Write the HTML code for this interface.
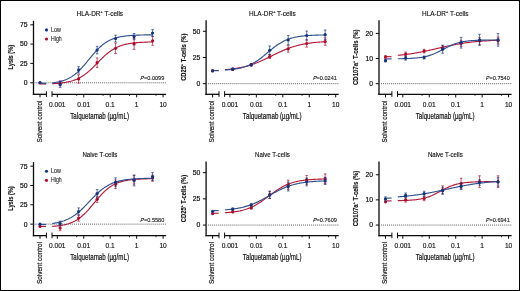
<!DOCTYPE html>
<html><head><meta charset="utf-8"><style>
html,body{margin:0;padding:0;background:#fff;}
.wrap{position:relative;will-change:transform;width:520px;height:291px;overflow:hidden;background:#fff;}
svg{position:absolute;left:0;top:0;}
svg text{font-family:"Liberation Sans",sans-serif;stroke:#111;stroke-width:0.14px;}
</style></head><body><div class="wrap">
<svg width="520" height="291" viewBox="0 0 520 291">
<rect x="0" y="0" width="520" height="291" fill="#fff"/>
<text x="99.80" y="16.00" font-size="6.8" text-anchor="middle" fill="#111" textLength="46.6" lengthAdjust="spacingAndGlyphs">HLA-DR<tspan dy="-3.2" font-size="4.0">+</tspan><tspan dy="3.2"> T-cells</tspan></text>
<line x1="33.50" y1="20.80" x2="33.50" y2="94.90" stroke="#0a0a0a" stroke-width="1.3"/>
<line x1="30.30" y1="24.80" x2="33.50" y2="24.80" stroke="#0a0a0a" stroke-width="1"/>
<text x="27.60" y="27.15" font-size="6.8" text-anchor="end" font-weight="normal" font-style="normal" fill="#111" style="stroke-width:0.2px">75</text>
<line x1="30.30" y1="44.10" x2="33.50" y2="44.10" stroke="#0a0a0a" stroke-width="1"/>
<text x="27.60" y="46.45" font-size="6.8" text-anchor="end" font-weight="normal" font-style="normal" fill="#111" style="stroke-width:0.2px">50</text>
<line x1="30.30" y1="63.40" x2="33.50" y2="63.40" stroke="#0a0a0a" stroke-width="1"/>
<text x="27.60" y="65.75" font-size="6.8" text-anchor="end" font-weight="normal" font-style="normal" fill="#111" style="stroke-width:0.2px">25</text>
<line x1="30.30" y1="82.80" x2="33.50" y2="82.80" stroke="#0a0a0a" stroke-width="1"/>
<text x="27.60" y="85.15" font-size="6.8" text-anchor="end" font-weight="normal" font-style="normal" fill="#111" style="stroke-width:0.2px">0</text>
<text transform="translate(13.00,57.20) rotate(-90)" font-size="7.2" font-weight="bold" text-anchor="middle" fill="#111" textLength="24.6" lengthAdjust="spacingAndGlyphs">Lysis (%)</text>
<line x1="32.85" y1="94.30" x2="46.40" y2="94.30" stroke="#0a0a0a" stroke-width="1.3"/>
<line x1="52.00" y1="94.30" x2="166.10" y2="94.30" stroke="#0a0a0a" stroke-width="1.3"/>
<line x1="46.40" y1="91.20" x2="46.40" y2="96.90" stroke="#0a0a0a" stroke-width="1"/>
<line x1="52.00" y1="91.20" x2="52.00" y2="96.90" stroke="#0a0a0a" stroke-width="1"/>
<line x1="40.00" y1="94.30" x2="40.00" y2="97.40" stroke="#0a0a0a" stroke-width="1"/>
<line x1="57.30" y1="94.30" x2="57.30" y2="97.40" stroke="#0a0a0a" stroke-width="1"/>
<text x="57.30" y="106.60" font-size="6.6" text-anchor="middle" font-weight="normal" font-style="normal" fill="#111" >0.001</text>
<line x1="76.61" y1="94.30" x2="76.61" y2="95.90" stroke="#0a0a0a" stroke-width="0.8"/>
<line x1="83.75" y1="94.30" x2="83.75" y2="97.40" stroke="#0a0a0a" stroke-width="1"/>
<text x="83.75" y="106.60" font-size="6.6" text-anchor="middle" font-weight="normal" font-style="normal" fill="#111" >0.01</text>
<line x1="103.06" y1="94.30" x2="103.06" y2="95.90" stroke="#0a0a0a" stroke-width="0.8"/>
<line x1="110.20" y1="94.30" x2="110.20" y2="97.40" stroke="#0a0a0a" stroke-width="1"/>
<text x="110.20" y="106.60" font-size="6.6" text-anchor="middle" font-weight="normal" font-style="normal" fill="#111" >0.1</text>
<line x1="129.51" y1="94.30" x2="129.51" y2="95.90" stroke="#0a0a0a" stroke-width="0.8"/>
<line x1="136.65" y1="94.30" x2="136.65" y2="97.40" stroke="#0a0a0a" stroke-width="1"/>
<text x="136.65" y="106.60" font-size="6.6" text-anchor="middle" font-weight="normal" font-style="normal" fill="#111" >1</text>
<line x1="155.96" y1="94.30" x2="155.96" y2="95.90" stroke="#0a0a0a" stroke-width="0.8"/>
<line x1="163.10" y1="94.30" x2="163.10" y2="97.40" stroke="#0a0a0a" stroke-width="1"/>
<text x="163.10" y="106.60" font-size="6.6" text-anchor="middle" font-weight="normal" font-style="normal" fill="#111" >10</text>
<text x="99.60" y="118.90" font-size="9.0" text-anchor="middle" font-weight="normal" font-style="normal" fill="#111" textLength="58.7" lengthAdjust="spacingAndGlyphs" style="stroke-width:0.22px">Talquetamab (µg/mL)</text>
<text transform="translate(41.70,100.60) rotate(-90)" font-size="7.2" text-anchor="end" fill="#111" style="stroke-width:0.2px" textLength="42.0" lengthAdjust="spacingAndGlyphs">Solvent control</text>
<line x1="33.50" y1="82.80" x2="166.80" y2="82.80" stroke="#5e5e5e" stroke-width="1" stroke-dasharray="1,1.02"/>
<text x="164.30" y="80.20" font-size="5.9" text-anchor="end" fill="#111" style="stroke-width:0.1px" textLength="20.3" lengthAdjust="spacingAndGlyphs">=0.0099</text>
<text transform="translate(140.10,80.20) skewX(-14)" font-size="5.9" fill="#111" style="stroke-width:0.1px" textLength="3.6" lengthAdjust="spacingAndGlyphs">P</text>
<circle cx="46.50" cy="29.90" r="1.55" fill="#15337a"/>
<circle cx="46.50" cy="39.00" r="1.55" fill="#ac0b2b"/>
<text x="51.00" y="31.90" font-size="6.5" text-anchor="start" font-weight="normal" font-style="normal" fill="#111" textLength="9.9" lengthAdjust="spacingAndGlyphs" style="stroke-width:0.08px">Low</text>
<text x="51.00" y="40.90" font-size="6.5" text-anchor="start" font-weight="normal" font-style="normal" fill="#111" textLength="10.7" lengthAdjust="spacingAndGlyphs" style="stroke-width:0.08px">High</text>
<path d="M52.30,83.71 L53.14,83.67 L53.99,83.62 L54.83,83.57 L55.67,83.51 L56.51,83.45 L57.36,83.38 L58.20,83.31 L59.04,83.23 L59.88,83.15 L60.73,83.06 L61.57,82.96 L62.41,82.85 L63.25,82.74 L64.10,82.61 L64.94,82.48 L65.78,82.34 L66.62,82.18 L67.47,82.02 L68.31,81.84 L69.15,81.65 L70.00,81.44 L70.84,81.22 L71.68,80.98 L72.52,80.73 L73.37,80.46 L74.21,80.16 L75.05,79.85 L75.89,79.52 L76.74,79.17 L77.58,78.79 L78.42,78.39 L79.26,77.97 L80.11,77.52 L80.95,77.04 L81.79,76.54 L82.64,76.02 L83.48,75.46 L84.32,74.88 L85.16,74.27 L86.01,73.63 L86.85,72.97 L87.69,72.28 L88.53,71.57 L89.38,70.83 L90.22,70.07 L91.06,69.29 L91.90,68.49 L92.75,67.67 L93.59,66.84 L94.43,66.00 L95.27,65.14 L96.12,64.28 L96.96,63.42 L97.80,62.55 L98.65,61.69 L99.49,60.83 L100.33,59.97 L101.17,59.13 L102.02,58.30 L102.86,57.48 L103.70,56.68 L104.54,55.90 L105.39,55.14 L106.23,54.41 L107.07,53.69 L107.91,53.00 L108.76,52.34 L109.60,51.71 L110.44,51.10 L111.28,50.52 L112.13,49.96 L112.97,49.44 L113.81,48.94 L114.66,48.46 L115.50,48.01 L116.34,47.59 L117.18,47.19 L118.03,46.82 L118.87,46.46 L119.71,46.13 L120.55,45.82 L121.40,45.53 L122.24,45.26 L123.08,45.00 L123.92,44.77 L124.77,44.55 L125.61,44.34 L126.45,44.15 L127.30,43.97 L128.14,43.80 L128.98,43.65 L129.82,43.51 L130.67,43.38 L131.51,43.25 L132.35,43.14 L133.19,43.03 L134.04,42.93 L134.88,42.84 L135.72,42.76 L136.56,42.68 L137.41,42.61 L138.25,42.54 L139.09,42.48 L139.93,42.43 L140.78,42.37 L141.62,42.33 L142.46,42.28 L143.31,42.24 L144.15,42.20 L144.99,42.17 L145.83,42.13 L146.68,42.10 L147.52,42.08 L148.36,42.05 L149.20,42.03 L150.05,42.01 L150.89,41.99 L151.73,41.97 L152.57,41.95" fill="none" stroke="#b41a3a" stroke-width="1.15"/>
<line x1="41.20" y1="84.00" x2="46.10" y2="84.00" stroke="#b41a3a" stroke-width="1.15"/>
<circle cx="40.00" cy="83.00" r="1.6" fill="#ac0b2b"/>
<line x1="60.14" y1="80.80" x2="60.14" y2="85.80" stroke="#ac0b2b" stroke-width="0.8" opacity="0.85"/>
<line x1="58.84" y1="80.80" x2="61.44" y2="80.80" stroke="#ac0b2b" stroke-width="0.8" opacity="0.85"/>
<line x1="58.84" y1="85.80" x2="61.44" y2="85.80" stroke="#ac0b2b" stroke-width="0.8" opacity="0.85"/>
<circle cx="60.14" cy="83.30" r="1.6" fill="#ac0b2b"/>
<line x1="78.62" y1="74.70" x2="78.62" y2="83.10" stroke="#ac0b2b" stroke-width="0.8" opacity="0.85"/>
<line x1="77.32" y1="74.70" x2="79.92" y2="74.70" stroke="#ac0b2b" stroke-width="0.8" opacity="0.85"/>
<line x1="77.32" y1="83.10" x2="79.92" y2="83.10" stroke="#ac0b2b" stroke-width="0.8" opacity="0.85"/>
<circle cx="78.62" cy="78.90" r="1.6" fill="#ac0b2b"/>
<line x1="97.11" y1="57.90" x2="97.11" y2="67.50" stroke="#ac0b2b" stroke-width="0.8" opacity="0.85"/>
<line x1="95.81" y1="57.90" x2="98.41" y2="57.90" stroke="#ac0b2b" stroke-width="0.8" opacity="0.85"/>
<line x1="95.81" y1="67.50" x2="98.41" y2="67.50" stroke="#ac0b2b" stroke-width="0.8" opacity="0.85"/>
<circle cx="97.11" cy="62.70" r="1.6" fill="#ac0b2b"/>
<line x1="115.60" y1="43.10" x2="115.60" y2="53.50" stroke="#ac0b2b" stroke-width="0.8" opacity="0.85"/>
<line x1="114.30" y1="43.10" x2="116.90" y2="43.10" stroke="#ac0b2b" stroke-width="0.8" opacity="0.85"/>
<line x1="114.30" y1="53.50" x2="116.90" y2="53.50" stroke="#ac0b2b" stroke-width="0.8" opacity="0.85"/>
<circle cx="115.60" cy="48.30" r="1.6" fill="#ac0b2b"/>
<line x1="134.09" y1="38.50" x2="134.09" y2="49.30" stroke="#ac0b2b" stroke-width="0.8" opacity="0.85"/>
<line x1="132.79" y1="38.50" x2="135.39" y2="38.50" stroke="#ac0b2b" stroke-width="0.8" opacity="0.85"/>
<line x1="132.79" y1="49.30" x2="135.39" y2="49.30" stroke="#ac0b2b" stroke-width="0.8" opacity="0.85"/>
<circle cx="134.09" cy="43.90" r="1.6" fill="#ac0b2b"/>
<line x1="152.57" y1="36.50" x2="152.57" y2="45.30" stroke="#ac0b2b" stroke-width="0.8" opacity="0.85"/>
<line x1="151.27" y1="36.50" x2="153.87" y2="36.50" stroke="#ac0b2b" stroke-width="0.8" opacity="0.85"/>
<line x1="151.27" y1="45.30" x2="153.87" y2="45.30" stroke="#ac0b2b" stroke-width="0.8" opacity="0.85"/>
<circle cx="152.57" cy="40.90" r="1.6" fill="#ac0b2b"/>
<path d="M52.30,82.93 L53.14,82.83 L53.99,82.71 L54.83,82.58 L55.67,82.45 L56.51,82.30 L57.36,82.14 L58.20,81.97 L59.04,81.78 L59.88,81.58 L60.73,81.37 L61.57,81.13 L62.41,80.88 L63.25,80.62 L64.10,80.33 L64.94,80.02 L65.78,79.68 L66.62,79.33 L67.47,78.95 L68.31,78.54 L69.15,78.11 L70.00,77.65 L70.84,77.16 L71.68,76.64 L72.52,76.08 L73.37,75.50 L74.21,74.88 L75.05,74.23 L75.89,73.55 L76.74,72.84 L77.58,72.09 L78.42,71.30 L79.26,70.49 L80.11,69.65 L80.95,68.77 L81.79,67.87 L82.64,66.94 L83.48,65.99 L84.32,65.02 L85.16,64.03 L86.01,63.02 L86.85,62.00 L87.69,60.97 L88.53,59.94 L89.38,58.90 L90.22,57.87 L91.06,56.85 L91.90,55.83 L92.75,54.82 L93.59,53.83 L94.43,52.86 L95.27,51.91 L96.12,50.99 L96.96,50.09 L97.80,49.21 L98.65,48.37 L99.49,47.56 L100.33,46.78 L101.17,46.04 L102.02,45.32 L102.86,44.64 L103.70,44.00 L104.54,43.38 L105.39,42.80 L106.23,42.25 L107.07,41.74 L107.91,41.25 L108.76,40.79 L109.60,40.36 L110.44,39.95 L111.28,39.58 L112.13,39.22 L112.97,38.89 L113.81,38.59 L114.66,38.30 L115.50,38.03 L116.34,37.78 L117.18,37.55 L118.03,37.34 L118.87,37.14 L119.71,36.95 L120.55,36.78 L121.40,36.63 L122.24,36.48 L123.08,36.34 L123.92,36.22 L124.77,36.10 L125.61,36.00 L126.45,35.90 L127.30,35.80 L128.14,35.72 L128.98,35.64 L129.82,35.57 L130.67,35.50 L131.51,35.44 L132.35,35.39 L133.19,35.34 L134.04,35.29 L134.88,35.24 L135.72,35.20 L136.56,35.17 L137.41,35.13 L138.25,35.10 L139.09,35.07 L139.93,35.04 L140.78,35.02 L141.62,35.00 L142.46,34.97 L143.31,34.96 L144.15,34.94 L144.99,34.92 L145.83,34.91 L146.68,34.89 L147.52,34.88 L148.36,34.87 L149.20,34.86 L150.05,34.85 L150.89,34.84 L151.73,34.83 L152.57,34.82" fill="none" stroke="#30518f" stroke-width="1.15"/>
<line x1="41.20" y1="83.30" x2="46.10" y2="83.30" stroke="#30518f" stroke-width="1.15"/>
<circle cx="40.00" cy="82.60" r="1.6" fill="#15337a"/>
<line x1="60.14" y1="81.60" x2="60.14" y2="87.60" stroke="#15337a" stroke-width="0.8" opacity="0.85"/>
<line x1="58.84" y1="81.60" x2="61.44" y2="81.60" stroke="#15337a" stroke-width="0.8" opacity="0.85"/>
<line x1="58.84" y1="87.60" x2="61.44" y2="87.60" stroke="#15337a" stroke-width="0.8" opacity="0.85"/>
<circle cx="60.14" cy="84.60" r="1.6" fill="#15337a"/>
<line x1="78.62" y1="66.70" x2="78.62" y2="73.10" stroke="#15337a" stroke-width="0.8" opacity="0.85"/>
<line x1="77.32" y1="66.70" x2="79.92" y2="66.70" stroke="#15337a" stroke-width="0.8" opacity="0.85"/>
<line x1="77.32" y1="73.10" x2="79.92" y2="73.10" stroke="#15337a" stroke-width="0.8" opacity="0.85"/>
<circle cx="78.62" cy="69.90" r="1.6" fill="#15337a"/>
<line x1="97.11" y1="46.30" x2="97.11" y2="53.90" stroke="#15337a" stroke-width="0.8" opacity="0.85"/>
<line x1="95.81" y1="46.30" x2="98.41" y2="46.30" stroke="#15337a" stroke-width="0.8" opacity="0.85"/>
<line x1="95.81" y1="53.90" x2="98.41" y2="53.90" stroke="#15337a" stroke-width="0.8" opacity="0.85"/>
<circle cx="97.11" cy="50.10" r="1.6" fill="#15337a"/>
<line x1="115.60" y1="35.20" x2="115.60" y2="42.00" stroke="#15337a" stroke-width="0.8" opacity="0.85"/>
<line x1="114.30" y1="35.20" x2="116.90" y2="35.20" stroke="#15337a" stroke-width="0.8" opacity="0.85"/>
<line x1="114.30" y1="42.00" x2="116.90" y2="42.00" stroke="#15337a" stroke-width="0.8" opacity="0.85"/>
<circle cx="115.60" cy="38.60" r="1.6" fill="#15337a"/>
<line x1="134.09" y1="33.50" x2="134.09" y2="39.70" stroke="#15337a" stroke-width="0.8" opacity="0.85"/>
<line x1="132.79" y1="33.50" x2="135.39" y2="33.50" stroke="#15337a" stroke-width="0.8" opacity="0.85"/>
<line x1="132.79" y1="39.70" x2="135.39" y2="39.70" stroke="#15337a" stroke-width="0.8" opacity="0.85"/>
<circle cx="134.09" cy="36.60" r="1.6" fill="#15337a"/>
<line x1="152.57" y1="29.70" x2="152.57" y2="36.30" stroke="#15337a" stroke-width="0.8" opacity="0.85"/>
<line x1="151.27" y1="29.70" x2="153.87" y2="29.70" stroke="#15337a" stroke-width="0.8" opacity="0.85"/>
<line x1="151.27" y1="36.30" x2="153.87" y2="36.30" stroke="#15337a" stroke-width="0.8" opacity="0.85"/>
<circle cx="152.57" cy="33.00" r="1.6" fill="#15337a"/>
<text x="272.40" y="16.00" font-size="6.8" text-anchor="middle" fill="#111" textLength="46.6" lengthAdjust="spacingAndGlyphs">HLA-DR<tspan dy="-3.2" font-size="4.0">+</tspan><tspan dy="3.2"> T-cells</tspan></text>
<line x1="206.10" y1="20.20" x2="206.10" y2="94.90" stroke="#0a0a0a" stroke-width="1.3"/>
<line x1="202.90" y1="31.30" x2="206.10" y2="31.30" stroke="#0a0a0a" stroke-width="1"/>
<text x="200.20" y="33.65" font-size="6.8" text-anchor="end" font-weight="normal" font-style="normal" fill="#111" style="stroke-width:0.2px">50</text>
<line x1="202.90" y1="57.50" x2="206.10" y2="57.50" stroke="#0a0a0a" stroke-width="1"/>
<text x="200.20" y="59.85" font-size="6.8" text-anchor="end" font-weight="normal" font-style="normal" fill="#111" style="stroke-width:0.2px">25</text>
<line x1="202.90" y1="83.70" x2="206.10" y2="83.70" stroke="#0a0a0a" stroke-width="1"/>
<text x="200.20" y="86.05" font-size="6.8" text-anchor="end" font-weight="normal" font-style="normal" fill="#111" style="stroke-width:0.2px">0</text>
<text transform="translate(186.40,57.20) rotate(-90)" font-size="7.2" font-weight="bold" text-anchor="middle" fill="#111" textLength="47.3" lengthAdjust="spacingAndGlyphs">CD25<tspan dy="-3.0" font-size="4.4">+</tspan><tspan dy="3.0"> T-cells (%)</tspan></text>
<line x1="205.45" y1="94.30" x2="219.00" y2="94.30" stroke="#0a0a0a" stroke-width="1.3"/>
<line x1="224.60" y1="94.30" x2="338.70" y2="94.30" stroke="#0a0a0a" stroke-width="1.3"/>
<line x1="219.00" y1="91.20" x2="219.00" y2="96.90" stroke="#0a0a0a" stroke-width="1"/>
<line x1="224.60" y1="91.20" x2="224.60" y2="96.90" stroke="#0a0a0a" stroke-width="1"/>
<line x1="212.60" y1="94.30" x2="212.60" y2="97.40" stroke="#0a0a0a" stroke-width="1"/>
<line x1="229.90" y1="94.30" x2="229.90" y2="97.40" stroke="#0a0a0a" stroke-width="1"/>
<text x="229.90" y="106.60" font-size="6.6" text-anchor="middle" font-weight="normal" font-style="normal" fill="#111" >0.001</text>
<line x1="249.21" y1="94.30" x2="249.21" y2="95.90" stroke="#0a0a0a" stroke-width="0.8"/>
<line x1="256.35" y1="94.30" x2="256.35" y2="97.40" stroke="#0a0a0a" stroke-width="1"/>
<text x="256.35" y="106.60" font-size="6.6" text-anchor="middle" font-weight="normal" font-style="normal" fill="#111" >0.01</text>
<line x1="275.66" y1="94.30" x2="275.66" y2="95.90" stroke="#0a0a0a" stroke-width="0.8"/>
<line x1="282.80" y1="94.30" x2="282.80" y2="97.40" stroke="#0a0a0a" stroke-width="1"/>
<text x="282.80" y="106.60" font-size="6.6" text-anchor="middle" font-weight="normal" font-style="normal" fill="#111" >0.1</text>
<line x1="302.11" y1="94.30" x2="302.11" y2="95.90" stroke="#0a0a0a" stroke-width="0.8"/>
<line x1="309.25" y1="94.30" x2="309.25" y2="97.40" stroke="#0a0a0a" stroke-width="1"/>
<text x="309.25" y="106.60" font-size="6.6" text-anchor="middle" font-weight="normal" font-style="normal" fill="#111" >1</text>
<line x1="328.56" y1="94.30" x2="328.56" y2="95.90" stroke="#0a0a0a" stroke-width="0.8"/>
<line x1="335.70" y1="94.30" x2="335.70" y2="97.40" stroke="#0a0a0a" stroke-width="1"/>
<text x="335.70" y="106.60" font-size="6.6" text-anchor="middle" font-weight="normal" font-style="normal" fill="#111" >10</text>
<text x="272.20" y="118.90" font-size="9.0" text-anchor="middle" font-weight="normal" font-style="normal" fill="#111" textLength="58.7" lengthAdjust="spacingAndGlyphs" style="stroke-width:0.22px">Talquetamab (µg/mL)</text>
<text transform="translate(214.30,100.60) rotate(-90)" font-size="7.2" text-anchor="end" fill="#111" style="stroke-width:0.2px" textLength="42.0" lengthAdjust="spacingAndGlyphs">Solvent control</text>
<line x1="206.10" y1="83.70" x2="339.40" y2="83.70" stroke="#5e5e5e" stroke-width="1" stroke-dasharray="1,1.02"/>
<text x="336.90" y="80.20" font-size="5.9" text-anchor="end" fill="#111" style="stroke-width:0.1px" textLength="20.3" lengthAdjust="spacingAndGlyphs">=0.0241</text>
<text transform="translate(312.70,80.20) skewX(-14)" font-size="5.9" fill="#111" style="stroke-width:0.1px" textLength="3.6" lengthAdjust="spacingAndGlyphs">P</text>
<path d="M224.90,69.72 L225.74,69.65 L226.59,69.57 L227.43,69.49 L228.27,69.41 L229.11,69.32 L229.96,69.23 L230.80,69.13 L231.64,69.03 L232.48,68.92 L233.33,68.81 L234.17,68.69 L235.01,68.56 L235.85,68.43 L236.70,68.30 L237.54,68.15 L238.38,68.01 L239.22,67.85 L240.07,67.69 L240.91,67.52 L241.75,67.34 L242.60,67.15 L243.44,66.96 L244.28,66.76 L245.12,66.55 L245.97,66.34 L246.81,66.11 L247.65,65.88 L248.49,65.63 L249.34,65.38 L250.18,65.12 L251.02,64.85 L251.86,64.58 L252.71,64.29 L253.55,63.99 L254.39,63.69 L255.24,63.37 L256.08,63.05 L256.92,62.72 L257.76,62.38 L258.61,62.04 L259.45,61.68 L260.29,61.32 L261.13,60.95 L261.98,60.57 L262.82,60.19 L263.66,59.80 L264.50,59.41 L265.35,59.01 L266.19,58.60 L267.03,58.19 L267.87,57.78 L268.72,57.37 L269.56,56.95 L270.40,56.53 L271.25,56.12 L272.09,55.70 L272.93,55.28 L273.77,54.86 L274.62,54.44 L275.46,54.03 L276.30,53.62 L277.14,53.21 L277.99,52.81 L278.83,52.41 L279.67,52.02 L280.51,51.63 L281.36,51.25 L282.20,50.87 L283.04,50.50 L283.88,50.14 L284.73,49.79 L285.57,49.44 L286.41,49.11 L287.26,48.78 L288.10,48.46 L288.94,48.14 L289.78,47.84 L290.63,47.55 L291.47,47.26 L292.31,46.99 L293.15,46.72 L294.00,46.46 L294.84,46.21 L295.68,45.97 L296.52,45.74 L297.37,45.51 L298.21,45.30 L299.05,45.09 L299.90,44.89 L300.74,44.70 L301.58,44.52 L302.42,44.34 L303.27,44.17 L304.11,44.01 L304.95,43.86 L305.79,43.71 L306.64,43.57 L307.48,43.43 L308.32,43.30 L309.16,43.18 L310.01,43.06 L310.85,42.95 L311.69,42.84 L312.53,42.74 L313.38,42.64 L314.22,42.55 L315.06,42.46 L315.91,42.38 L316.75,42.30 L317.59,42.22 L318.43,42.15 L319.28,42.08 L320.12,42.02 L320.96,41.96 L321.80,41.90 L322.65,41.84 L323.49,41.79 L324.33,41.74 L325.17,41.69" fill="none" stroke="#b41a3a" stroke-width="1.15"/>
<line x1="213.80" y1="70.60" x2="218.70" y2="70.60" stroke="#b41a3a" stroke-width="1.15"/>
<circle cx="212.60" cy="70.60" r="1.6" fill="#ac0b2b"/>
<line x1="232.74" y1="68.30" x2="232.74" y2="70.30" stroke="#ac0b2b" stroke-width="0.8" opacity="0.85"/>
<line x1="231.44" y1="68.30" x2="234.04" y2="68.30" stroke="#ac0b2b" stroke-width="0.8" opacity="0.85"/>
<line x1="231.44" y1="70.30" x2="234.04" y2="70.30" stroke="#ac0b2b" stroke-width="0.8" opacity="0.85"/>
<circle cx="232.74" cy="69.30" r="1.6" fill="#ac0b2b"/>
<line x1="251.22" y1="63.80" x2="251.22" y2="65.80" stroke="#ac0b2b" stroke-width="0.8" opacity="0.85"/>
<line x1="249.92" y1="63.80" x2="252.52" y2="63.80" stroke="#ac0b2b" stroke-width="0.8" opacity="0.85"/>
<line x1="249.92" y1="65.80" x2="252.52" y2="65.80" stroke="#ac0b2b" stroke-width="0.8" opacity="0.85"/>
<circle cx="251.22" cy="64.80" r="1.6" fill="#ac0b2b"/>
<line x1="269.71" y1="54.50" x2="269.71" y2="58.50" stroke="#ac0b2b" stroke-width="0.8" opacity="0.85"/>
<line x1="268.41" y1="54.50" x2="271.01" y2="54.50" stroke="#ac0b2b" stroke-width="0.8" opacity="0.85"/>
<line x1="268.41" y1="58.50" x2="271.01" y2="58.50" stroke="#ac0b2b" stroke-width="0.8" opacity="0.85"/>
<circle cx="269.71" cy="56.50" r="1.6" fill="#ac0b2b"/>
<line x1="288.20" y1="45.40" x2="288.20" y2="52.20" stroke="#ac0b2b" stroke-width="0.8" opacity="0.85"/>
<line x1="286.90" y1="45.40" x2="289.50" y2="45.40" stroke="#ac0b2b" stroke-width="0.8" opacity="0.85"/>
<line x1="286.90" y1="52.20" x2="289.50" y2="52.20" stroke="#ac0b2b" stroke-width="0.8" opacity="0.85"/>
<circle cx="288.20" cy="48.80" r="1.6" fill="#ac0b2b"/>
<line x1="306.69" y1="39.90" x2="306.69" y2="47.10" stroke="#ac0b2b" stroke-width="0.8" opacity="0.85"/>
<line x1="305.39" y1="39.90" x2="307.99" y2="39.90" stroke="#ac0b2b" stroke-width="0.8" opacity="0.85"/>
<line x1="305.39" y1="47.10" x2="307.99" y2="47.10" stroke="#ac0b2b" stroke-width="0.8" opacity="0.85"/>
<circle cx="306.69" cy="43.50" r="1.6" fill="#ac0b2b"/>
<line x1="325.17" y1="37.90" x2="325.17" y2="45.30" stroke="#ac0b2b" stroke-width="0.8" opacity="0.85"/>
<line x1="323.87" y1="37.90" x2="326.47" y2="37.90" stroke="#ac0b2b" stroke-width="0.8" opacity="0.85"/>
<line x1="323.87" y1="45.30" x2="326.47" y2="45.30" stroke="#ac0b2b" stroke-width="0.8" opacity="0.85"/>
<circle cx="325.17" cy="41.60" r="1.6" fill="#ac0b2b"/>
<path d="M224.90,69.99 L225.74,69.94 L226.59,69.88 L227.43,69.82 L228.27,69.76 L229.11,69.69 L229.96,69.61 L230.80,69.53 L231.64,69.44 L232.48,69.35 L233.33,69.25 L234.17,69.14 L235.01,69.02 L235.85,68.90 L236.70,68.76 L237.54,68.62 L238.38,68.46 L239.22,68.29 L240.07,68.11 L240.91,67.92 L241.75,67.72 L242.60,67.50 L243.44,67.26 L244.28,67.01 L245.12,66.75 L245.97,66.46 L246.81,66.16 L247.65,65.84 L248.49,65.51 L249.34,65.15 L250.18,64.77 L251.02,64.37 L251.86,63.95 L252.71,63.51 L253.55,63.04 L254.39,62.56 L255.24,62.05 L256.08,61.52 L256.92,60.97 L257.76,60.40 L258.61,59.81 L259.45,59.20 L260.29,58.58 L261.13,57.94 L261.98,57.28 L262.82,56.61 L263.66,55.92 L264.50,55.23 L265.35,54.53 L266.19,53.82 L267.03,53.11 L267.87,52.40 L268.72,51.69 L269.56,50.98 L270.40,50.28 L271.25,49.59 L272.09,48.90 L272.93,48.23 L273.77,47.57 L274.62,46.92 L275.46,46.29 L276.30,45.68 L277.14,45.09 L277.99,44.51 L278.83,43.96 L279.67,43.43 L280.51,42.92 L281.36,42.43 L282.20,41.96 L283.04,41.51 L283.88,41.09 L284.73,40.69 L285.57,40.30 L286.41,39.94 L287.26,39.60 L288.10,39.28 L288.94,38.97 L289.78,38.69 L290.63,38.42 L291.47,38.17 L292.31,37.93 L293.15,37.71 L294.00,37.50 L294.84,37.31 L295.68,37.13 L296.52,36.96 L297.37,36.80 L298.21,36.65 L299.05,36.51 L299.90,36.39 L300.74,36.27 L301.58,36.16 L302.42,36.06 L303.27,35.96 L304.11,35.87 L304.95,35.79 L305.79,35.71 L306.64,35.64 L307.48,35.58 L308.32,35.52 L309.16,35.46 L310.01,35.41 L310.85,35.36 L311.69,35.32 L312.53,35.27 L313.38,35.24 L314.22,35.20 L315.06,35.17 L315.91,35.14 L316.75,35.11 L317.59,35.08 L318.43,35.06 L319.28,35.04 L320.12,35.02 L320.96,35.00 L321.80,34.98 L322.65,34.96 L323.49,34.95 L324.33,34.93 L325.17,34.92" fill="none" stroke="#30518f" stroke-width="1.15"/>
<line x1="213.80" y1="70.50" x2="218.70" y2="70.50" stroke="#30518f" stroke-width="1.15"/>
<circle cx="212.60" cy="70.90" r="1.6" fill="#15337a"/>
<line x1="232.74" y1="68.10" x2="232.74" y2="70.10" stroke="#15337a" stroke-width="0.8" opacity="0.85"/>
<line x1="231.44" y1="68.10" x2="234.04" y2="68.10" stroke="#15337a" stroke-width="0.8" opacity="0.85"/>
<line x1="231.44" y1="70.10" x2="234.04" y2="70.10" stroke="#15337a" stroke-width="0.8" opacity="0.85"/>
<circle cx="232.74" cy="69.10" r="1.6" fill="#15337a"/>
<line x1="251.22" y1="63.80" x2="251.22" y2="65.80" stroke="#15337a" stroke-width="0.8" opacity="0.85"/>
<line x1="249.92" y1="63.80" x2="252.52" y2="63.80" stroke="#15337a" stroke-width="0.8" opacity="0.85"/>
<line x1="249.92" y1="65.80" x2="252.52" y2="65.80" stroke="#15337a" stroke-width="0.8" opacity="0.85"/>
<circle cx="251.22" cy="64.80" r="1.6" fill="#15337a"/>
<line x1="269.71" y1="46.00" x2="269.71" y2="54.60" stroke="#15337a" stroke-width="0.8" opacity="0.85"/>
<line x1="268.41" y1="46.00" x2="271.01" y2="46.00" stroke="#15337a" stroke-width="0.8" opacity="0.85"/>
<line x1="268.41" y1="54.60" x2="271.01" y2="54.60" stroke="#15337a" stroke-width="0.8" opacity="0.85"/>
<circle cx="269.71" cy="50.30" r="1.6" fill="#15337a"/>
<line x1="288.20" y1="35.40" x2="288.20" y2="44.40" stroke="#15337a" stroke-width="0.8" opacity="0.85"/>
<line x1="286.90" y1="35.40" x2="289.50" y2="35.40" stroke="#15337a" stroke-width="0.8" opacity="0.85"/>
<line x1="286.90" y1="44.40" x2="289.50" y2="44.40" stroke="#15337a" stroke-width="0.8" opacity="0.85"/>
<circle cx="288.20" cy="39.90" r="1.6" fill="#15337a"/>
<line x1="306.69" y1="31.00" x2="306.69" y2="40.00" stroke="#15337a" stroke-width="0.8" opacity="0.85"/>
<line x1="305.39" y1="31.00" x2="307.99" y2="31.00" stroke="#15337a" stroke-width="0.8" opacity="0.85"/>
<line x1="305.39" y1="40.00" x2="307.99" y2="40.00" stroke="#15337a" stroke-width="0.8" opacity="0.85"/>
<circle cx="306.69" cy="35.50" r="1.6" fill="#15337a"/>
<line x1="325.17" y1="30.00" x2="325.17" y2="39.40" stroke="#15337a" stroke-width="0.8" opacity="0.85"/>
<line x1="323.87" y1="30.00" x2="326.47" y2="30.00" stroke="#15337a" stroke-width="0.8" opacity="0.85"/>
<line x1="323.87" y1="39.40" x2="326.47" y2="39.40" stroke="#15337a" stroke-width="0.8" opacity="0.85"/>
<circle cx="325.17" cy="34.70" r="1.6" fill="#15337a"/>
<text x="445.30" y="16.00" font-size="6.8" text-anchor="middle" fill="#111" textLength="46.6" lengthAdjust="spacingAndGlyphs">HLA-DR<tspan dy="-3.2" font-size="4.0">+</tspan><tspan dy="3.2"> T-cells</tspan></text>
<line x1="379.00" y1="20.20" x2="379.00" y2="94.90" stroke="#0a0a0a" stroke-width="1.3"/>
<line x1="375.80" y1="33.40" x2="379.00" y2="33.40" stroke="#0a0a0a" stroke-width="1"/>
<text x="373.10" y="35.75" font-size="6.8" text-anchor="end" font-weight="normal" font-style="normal" fill="#111" style="stroke-width:0.2px">20</text>
<line x1="375.80" y1="58.50" x2="379.00" y2="58.50" stroke="#0a0a0a" stroke-width="1"/>
<text x="373.10" y="60.85" font-size="6.8" text-anchor="end" font-weight="normal" font-style="normal" fill="#111" style="stroke-width:0.2px">10</text>
<line x1="375.80" y1="83.70" x2="379.00" y2="83.70" stroke="#0a0a0a" stroke-width="1"/>
<text x="373.10" y="86.05" font-size="6.8" text-anchor="end" font-weight="normal" font-style="normal" fill="#111" style="stroke-width:0.2px">0</text>
<text transform="translate(357.80,57.20) rotate(-90)" font-size="7.2" font-weight="bold" text-anchor="middle" fill="#111" textLength="55.6" lengthAdjust="spacingAndGlyphs">CD107a<tspan dy="-3.0" font-size="4.4">+</tspan><tspan dy="3.0"> T-cells (%)</tspan></text>
<line x1="378.35" y1="94.30" x2="391.90" y2="94.30" stroke="#0a0a0a" stroke-width="1.3"/>
<line x1="397.50" y1="94.30" x2="511.60" y2="94.30" stroke="#0a0a0a" stroke-width="1.3"/>
<line x1="391.90" y1="91.20" x2="391.90" y2="96.90" stroke="#0a0a0a" stroke-width="1"/>
<line x1="397.50" y1="91.20" x2="397.50" y2="96.90" stroke="#0a0a0a" stroke-width="1"/>
<line x1="385.50" y1="94.30" x2="385.50" y2="97.40" stroke="#0a0a0a" stroke-width="1"/>
<line x1="402.80" y1="94.30" x2="402.80" y2="97.40" stroke="#0a0a0a" stroke-width="1"/>
<text x="402.80" y="106.60" font-size="6.6" text-anchor="middle" font-weight="normal" font-style="normal" fill="#111" >0.001</text>
<line x1="422.11" y1="94.30" x2="422.11" y2="95.90" stroke="#0a0a0a" stroke-width="0.8"/>
<line x1="429.25" y1="94.30" x2="429.25" y2="97.40" stroke="#0a0a0a" stroke-width="1"/>
<text x="429.25" y="106.60" font-size="6.6" text-anchor="middle" font-weight="normal" font-style="normal" fill="#111" >0.01</text>
<line x1="448.56" y1="94.30" x2="448.56" y2="95.90" stroke="#0a0a0a" stroke-width="0.8"/>
<line x1="455.70" y1="94.30" x2="455.70" y2="97.40" stroke="#0a0a0a" stroke-width="1"/>
<text x="455.70" y="106.60" font-size="6.6" text-anchor="middle" font-weight="normal" font-style="normal" fill="#111" >0.1</text>
<line x1="475.01" y1="94.30" x2="475.01" y2="95.90" stroke="#0a0a0a" stroke-width="0.8"/>
<line x1="482.15" y1="94.30" x2="482.15" y2="97.40" stroke="#0a0a0a" stroke-width="1"/>
<text x="482.15" y="106.60" font-size="6.6" text-anchor="middle" font-weight="normal" font-style="normal" fill="#111" >1</text>
<line x1="501.46" y1="94.30" x2="501.46" y2="95.90" stroke="#0a0a0a" stroke-width="0.8"/>
<line x1="508.60" y1="94.30" x2="508.60" y2="97.40" stroke="#0a0a0a" stroke-width="1"/>
<text x="508.60" y="106.60" font-size="6.6" text-anchor="middle" font-weight="normal" font-style="normal" fill="#111" >10</text>
<text x="445.10" y="118.90" font-size="9.0" text-anchor="middle" font-weight="normal" font-style="normal" fill="#111" textLength="58.7" lengthAdjust="spacingAndGlyphs" style="stroke-width:0.22px">Talquetamab (µg/mL)</text>
<text transform="translate(387.20,100.60) rotate(-90)" font-size="7.2" text-anchor="end" fill="#111" style="stroke-width:0.2px" textLength="42.0" lengthAdjust="spacingAndGlyphs">Solvent control</text>
<line x1="379.00" y1="83.70" x2="512.30" y2="83.70" stroke="#5e5e5e" stroke-width="1" stroke-dasharray="1,1.02"/>
<text x="509.80" y="80.20" font-size="5.9" text-anchor="end" fill="#111" style="stroke-width:0.1px" textLength="20.3" lengthAdjust="spacingAndGlyphs">=0.7540</text>
<text transform="translate(485.60,80.20) skewX(-14)" font-size="5.9" fill="#111" style="stroke-width:0.1px" textLength="3.6" lengthAdjust="spacingAndGlyphs">P</text>
<path d="M397.80,55.34 L398.64,55.26 L399.49,55.18 L400.33,55.09 L401.17,55.00 L402.01,54.91 L402.86,54.82 L403.70,54.72 L404.54,54.62 L405.38,54.52 L406.23,54.41 L407.07,54.30 L407.91,54.19 L408.75,54.08 L409.60,53.96 L410.44,53.83 L411.28,53.71 L412.12,53.58 L412.97,53.45 L413.81,53.31 L414.65,53.17 L415.50,53.03 L416.34,52.89 L417.18,52.74 L418.02,52.58 L418.87,52.43 L419.71,52.27 L420.55,52.11 L421.39,51.95 L422.24,51.78 L423.08,51.61 L423.92,51.44 L424.76,51.26 L425.61,51.08 L426.45,50.90 L427.29,50.72 L428.14,50.54 L428.98,50.35 L429.82,50.16 L430.66,49.98 L431.51,49.78 L432.35,49.59 L433.19,49.40 L434.03,49.21 L434.88,49.01 L435.72,48.81 L436.56,48.62 L437.40,48.42 L438.25,48.23 L439.09,48.03 L439.93,47.84 L440.77,47.64 L441.62,47.45 L442.46,47.25 L443.30,47.06 L444.15,46.87 L444.99,46.68 L445.83,46.50 L446.67,46.31 L447.52,46.13 L448.36,45.94 L449.20,45.76 L450.04,45.59 L450.89,45.41 L451.73,45.24 L452.57,45.07 L453.41,44.91 L454.26,44.74 L455.10,44.58 L455.94,44.42 L456.78,44.27 L457.63,44.12 L458.47,43.97 L459.31,43.82 L460.16,43.68 L461.00,43.54 L461.84,43.41 L462.68,43.28 L463.53,43.15 L464.37,43.02 L465.21,42.90 L466.05,42.78 L466.90,42.67 L467.74,42.56 L468.58,42.45 L469.42,42.34 L470.27,42.24 L471.11,42.14 L471.95,42.05 L472.80,41.95 L473.64,41.86 L474.48,41.77 L475.32,41.69 L476.17,41.61 L477.01,41.53 L477.85,41.45 L478.69,41.38 L479.54,41.31 L480.38,41.24 L481.22,41.17 L482.06,41.11 L482.91,41.05 L483.75,40.99 L484.59,40.93 L485.43,40.87 L486.28,40.82 L487.12,40.77 L487.96,40.72 L488.81,40.67 L489.65,40.63 L490.49,40.58 L491.33,40.54 L492.18,40.50 L493.02,40.46 L493.86,40.42 L494.70,40.39 L495.55,40.35 L496.39,40.32 L497.23,40.29 L498.07,40.26" fill="none" stroke="#b41a3a" stroke-width="1.15"/>
<line x1="386.70" y1="56.70" x2="391.60" y2="56.70" stroke="#b41a3a" stroke-width="1.15"/>
<line x1="385.50" y1="55.40" x2="385.50" y2="58.60" stroke="#ac0b2b" stroke-width="0.8" opacity="0.85"/>
<line x1="384.20" y1="55.40" x2="386.80" y2="55.40" stroke="#ac0b2b" stroke-width="0.8" opacity="0.85"/>
<line x1="384.20" y1="58.60" x2="386.80" y2="58.60" stroke="#ac0b2b" stroke-width="0.8" opacity="0.85"/>
<circle cx="385.50" cy="57.00" r="1.6" fill="#ac0b2b"/>
<line x1="405.64" y1="52.10" x2="405.64" y2="56.30" stroke="#ac0b2b" stroke-width="0.8" opacity="0.85"/>
<line x1="404.34" y1="52.10" x2="406.94" y2="52.10" stroke="#ac0b2b" stroke-width="0.8" opacity="0.85"/>
<line x1="404.34" y1="56.30" x2="406.94" y2="56.30" stroke="#ac0b2b" stroke-width="0.8" opacity="0.85"/>
<circle cx="405.64" cy="54.20" r="1.6" fill="#ac0b2b"/>
<line x1="424.12" y1="49.30" x2="424.12" y2="52.90" stroke="#ac0b2b" stroke-width="0.8" opacity="0.85"/>
<line x1="422.82" y1="49.30" x2="425.42" y2="49.30" stroke="#ac0b2b" stroke-width="0.8" opacity="0.85"/>
<line x1="422.82" y1="52.90" x2="425.42" y2="52.90" stroke="#ac0b2b" stroke-width="0.8" opacity="0.85"/>
<circle cx="424.12" cy="51.10" r="1.6" fill="#ac0b2b"/>
<line x1="442.61" y1="45.80" x2="442.61" y2="49.80" stroke="#ac0b2b" stroke-width="0.8" opacity="0.85"/>
<line x1="441.31" y1="45.80" x2="443.91" y2="45.80" stroke="#ac0b2b" stroke-width="0.8" opacity="0.85"/>
<line x1="441.31" y1="49.80" x2="443.91" y2="49.80" stroke="#ac0b2b" stroke-width="0.8" opacity="0.85"/>
<circle cx="442.61" cy="47.80" r="1.6" fill="#ac0b2b"/>
<line x1="461.10" y1="40.30" x2="461.10" y2="46.30" stroke="#ac0b2b" stroke-width="0.8" opacity="0.85"/>
<line x1="459.80" y1="40.30" x2="462.40" y2="40.30" stroke="#ac0b2b" stroke-width="0.8" opacity="0.85"/>
<line x1="459.80" y1="46.30" x2="462.40" y2="46.30" stroke="#ac0b2b" stroke-width="0.8" opacity="0.85"/>
<circle cx="461.10" cy="43.30" r="1.6" fill="#ac0b2b"/>
<line x1="479.59" y1="37.40" x2="479.59" y2="44.40" stroke="#ac0b2b" stroke-width="0.8" opacity="0.85"/>
<line x1="478.29" y1="37.40" x2="480.89" y2="37.40" stroke="#ac0b2b" stroke-width="0.8" opacity="0.85"/>
<line x1="478.29" y1="44.40" x2="480.89" y2="44.40" stroke="#ac0b2b" stroke-width="0.8" opacity="0.85"/>
<circle cx="479.59" cy="40.90" r="1.6" fill="#ac0b2b"/>
<line x1="498.07" y1="37.10" x2="498.07" y2="44.10" stroke="#ac0b2b" stroke-width="0.8" opacity="0.85"/>
<line x1="496.77" y1="37.10" x2="499.37" y2="37.10" stroke="#ac0b2b" stroke-width="0.8" opacity="0.85"/>
<line x1="496.77" y1="44.10" x2="499.37" y2="44.10" stroke="#ac0b2b" stroke-width="0.8" opacity="0.85"/>
<circle cx="498.07" cy="40.60" r="1.6" fill="#ac0b2b"/>
<path d="M397.80,58.77 L398.64,58.76 L399.49,58.74 L400.33,58.73 L401.17,58.72 L402.01,58.70 L402.86,58.68 L403.70,58.66 L404.54,58.64 L405.38,58.61 L406.23,58.58 L407.07,58.55 L407.91,58.52 L408.75,58.49 L409.60,58.45 L410.44,58.41 L411.28,58.36 L412.12,58.31 L412.97,58.25 L413.81,58.19 L414.65,58.13 L415.50,58.05 L416.34,57.98 L417.18,57.89 L418.02,57.80 L418.87,57.70 L419.71,57.59 L420.55,57.47 L421.39,57.34 L422.24,57.20 L423.08,57.05 L423.92,56.89 L424.76,56.71 L425.61,56.52 L426.45,56.32 L427.29,56.11 L428.14,55.87 L428.98,55.63 L429.82,55.37 L430.66,55.09 L431.51,54.79 L432.35,54.48 L433.19,54.16 L434.03,53.81 L434.88,53.46 L435.72,53.08 L436.56,52.70 L437.40,52.30 L438.25,51.89 L439.09,51.47 L439.93,51.04 L440.77,50.60 L441.62,50.16 L442.46,49.72 L443.30,49.27 L444.15,48.82 L444.99,48.38 L445.83,47.94 L446.67,47.51 L447.52,47.08 L448.36,46.67 L449.20,46.26 L450.04,45.87 L450.89,45.49 L451.73,45.13 L452.57,44.78 L453.41,44.45 L454.26,44.13 L455.10,43.83 L455.94,43.54 L456.78,43.27 L457.63,43.02 L458.47,42.78 L459.31,42.56 L460.16,42.35 L461.00,42.16 L461.84,41.98 L462.68,41.81 L463.53,41.65 L464.37,41.51 L465.21,41.38 L466.05,41.25 L466.90,41.14 L467.74,41.03 L468.58,40.94 L469.42,40.85 L470.27,40.77 L471.11,40.69 L471.95,40.62 L472.80,40.56 L473.64,40.50 L474.48,40.45 L475.32,40.40 L476.17,40.36 L477.01,40.32 L477.85,40.28 L478.69,40.25 L479.54,40.22 L480.38,40.19 L481.22,40.16 L482.06,40.14 L482.91,40.12 L483.75,40.10 L484.59,40.08 L485.43,40.06 L486.28,40.05 L487.12,40.04 L487.96,40.02 L488.81,40.01 L489.65,40.00 L490.49,39.99 L491.33,39.98 L492.18,39.98 L493.02,39.97 L493.86,39.96 L494.70,39.96 L495.55,39.95 L496.39,39.95 L497.23,39.94 L498.07,39.94" fill="none" stroke="#30518f" stroke-width="1.15"/>
<line x1="386.70" y1="58.90" x2="391.60" y2="58.90" stroke="#30518f" stroke-width="1.15"/>
<line x1="385.50" y1="59.50" x2="385.50" y2="61.90" stroke="#15337a" stroke-width="0.8" opacity="0.85"/>
<line x1="384.20" y1="59.50" x2="386.80" y2="59.50" stroke="#15337a" stroke-width="0.8" opacity="0.85"/>
<line x1="384.20" y1="61.90" x2="386.80" y2="61.90" stroke="#15337a" stroke-width="0.8" opacity="0.85"/>
<circle cx="385.50" cy="60.70" r="1.6" fill="#15337a"/>
<line x1="405.64" y1="56.10" x2="405.64" y2="60.10" stroke="#15337a" stroke-width="0.8" opacity="0.85"/>
<line x1="404.34" y1="56.10" x2="406.94" y2="56.10" stroke="#15337a" stroke-width="0.8" opacity="0.85"/>
<line x1="404.34" y1="60.10" x2="406.94" y2="60.10" stroke="#15337a" stroke-width="0.8" opacity="0.85"/>
<circle cx="405.64" cy="58.10" r="1.6" fill="#15337a"/>
<line x1="424.12" y1="56.00" x2="424.12" y2="59.00" stroke="#15337a" stroke-width="0.8" opacity="0.85"/>
<line x1="422.82" y1="56.00" x2="425.42" y2="56.00" stroke="#15337a" stroke-width="0.8" opacity="0.85"/>
<line x1="422.82" y1="59.00" x2="425.42" y2="59.00" stroke="#15337a" stroke-width="0.8" opacity="0.85"/>
<circle cx="424.12" cy="57.50" r="1.6" fill="#15337a"/>
<line x1="442.61" y1="45.20" x2="442.61" y2="53.20" stroke="#15337a" stroke-width="0.8" opacity="0.85"/>
<line x1="441.31" y1="45.20" x2="443.91" y2="45.20" stroke="#15337a" stroke-width="0.8" opacity="0.85"/>
<line x1="441.31" y1="53.20" x2="443.91" y2="53.20" stroke="#15337a" stroke-width="0.8" opacity="0.85"/>
<circle cx="442.61" cy="49.20" r="1.6" fill="#15337a"/>
<line x1="461.10" y1="37.30" x2="461.10" y2="48.10" stroke="#15337a" stroke-width="0.8" opacity="0.85"/>
<line x1="459.80" y1="37.30" x2="462.40" y2="37.30" stroke="#15337a" stroke-width="0.8" opacity="0.85"/>
<line x1="459.80" y1="48.10" x2="462.40" y2="48.10" stroke="#15337a" stroke-width="0.8" opacity="0.85"/>
<circle cx="461.10" cy="42.70" r="1.6" fill="#15337a"/>
<line x1="479.59" y1="34.20" x2="479.59" y2="45.60" stroke="#15337a" stroke-width="0.8" opacity="0.85"/>
<line x1="478.29" y1="34.20" x2="480.89" y2="34.20" stroke="#15337a" stroke-width="0.8" opacity="0.85"/>
<line x1="478.29" y1="45.60" x2="480.89" y2="45.60" stroke="#15337a" stroke-width="0.8" opacity="0.85"/>
<circle cx="479.59" cy="39.90" r="1.6" fill="#15337a"/>
<line x1="498.07" y1="33.60" x2="498.07" y2="46.20" stroke="#15337a" stroke-width="0.8" opacity="0.85"/>
<line x1="496.77" y1="33.60" x2="499.37" y2="33.60" stroke="#15337a" stroke-width="0.8" opacity="0.85"/>
<line x1="496.77" y1="46.20" x2="499.37" y2="46.20" stroke="#15337a" stroke-width="0.8" opacity="0.85"/>
<circle cx="498.07" cy="39.90" r="1.6" fill="#15337a"/>
<text x="99.80" y="157.45" font-size="6.8" text-anchor="middle" font-weight="normal" font-style="normal" fill="#111" textLength="34.8" lengthAdjust="spacingAndGlyphs" >Naive T-cells</text>
<line x1="33.50" y1="162.15" x2="33.50" y2="236.25" stroke="#0a0a0a" stroke-width="1.3"/>
<line x1="30.30" y1="166.15" x2="33.50" y2="166.15" stroke="#0a0a0a" stroke-width="1"/>
<text x="27.60" y="168.50" font-size="6.8" text-anchor="end" font-weight="normal" font-style="normal" fill="#111" style="stroke-width:0.2px">75</text>
<line x1="30.30" y1="185.45" x2="33.50" y2="185.45" stroke="#0a0a0a" stroke-width="1"/>
<text x="27.60" y="187.80" font-size="6.8" text-anchor="end" font-weight="normal" font-style="normal" fill="#111" style="stroke-width:0.2px">50</text>
<line x1="30.30" y1="204.75" x2="33.50" y2="204.75" stroke="#0a0a0a" stroke-width="1"/>
<text x="27.60" y="207.10" font-size="6.8" text-anchor="end" font-weight="normal" font-style="normal" fill="#111" style="stroke-width:0.2px">25</text>
<line x1="30.30" y1="224.15" x2="33.50" y2="224.15" stroke="#0a0a0a" stroke-width="1"/>
<text x="27.60" y="226.50" font-size="6.8" text-anchor="end" font-weight="normal" font-style="normal" fill="#111" style="stroke-width:0.2px">0</text>
<text transform="translate(13.00,198.55) rotate(-90)" font-size="7.2" font-weight="bold" text-anchor="middle" fill="#111" textLength="24.6" lengthAdjust="spacingAndGlyphs">Lysis (%)</text>
<line x1="32.85" y1="235.65" x2="46.40" y2="235.65" stroke="#0a0a0a" stroke-width="1.3"/>
<line x1="52.00" y1="235.65" x2="166.10" y2="235.65" stroke="#0a0a0a" stroke-width="1.3"/>
<line x1="46.40" y1="232.55" x2="46.40" y2="238.25" stroke="#0a0a0a" stroke-width="1"/>
<line x1="52.00" y1="232.55" x2="52.00" y2="238.25" stroke="#0a0a0a" stroke-width="1"/>
<line x1="40.00" y1="235.65" x2="40.00" y2="238.75" stroke="#0a0a0a" stroke-width="1"/>
<line x1="57.30" y1="235.65" x2="57.30" y2="238.75" stroke="#0a0a0a" stroke-width="1"/>
<text x="57.30" y="247.95" font-size="6.6" text-anchor="middle" font-weight="normal" font-style="normal" fill="#111" >0.001</text>
<line x1="76.61" y1="235.65" x2="76.61" y2="237.25" stroke="#0a0a0a" stroke-width="0.8"/>
<line x1="83.75" y1="235.65" x2="83.75" y2="238.75" stroke="#0a0a0a" stroke-width="1"/>
<text x="83.75" y="247.95" font-size="6.6" text-anchor="middle" font-weight="normal" font-style="normal" fill="#111" >0.01</text>
<line x1="103.06" y1="235.65" x2="103.06" y2="237.25" stroke="#0a0a0a" stroke-width="0.8"/>
<line x1="110.20" y1="235.65" x2="110.20" y2="238.75" stroke="#0a0a0a" stroke-width="1"/>
<text x="110.20" y="247.95" font-size="6.6" text-anchor="middle" font-weight="normal" font-style="normal" fill="#111" >0.1</text>
<line x1="129.51" y1="235.65" x2="129.51" y2="237.25" stroke="#0a0a0a" stroke-width="0.8"/>
<line x1="136.65" y1="235.65" x2="136.65" y2="238.75" stroke="#0a0a0a" stroke-width="1"/>
<text x="136.65" y="247.95" font-size="6.6" text-anchor="middle" font-weight="normal" font-style="normal" fill="#111" >1</text>
<line x1="155.96" y1="235.65" x2="155.96" y2="237.25" stroke="#0a0a0a" stroke-width="0.8"/>
<line x1="163.10" y1="235.65" x2="163.10" y2="238.75" stroke="#0a0a0a" stroke-width="1"/>
<text x="163.10" y="247.95" font-size="6.6" text-anchor="middle" font-weight="normal" font-style="normal" fill="#111" >10</text>
<text x="99.60" y="260.25" font-size="9.0" text-anchor="middle" font-weight="normal" font-style="normal" fill="#111" textLength="58.7" lengthAdjust="spacingAndGlyphs" style="stroke-width:0.22px">Talquetamab (µg/mL)</text>
<text transform="translate(41.70,241.95) rotate(-90)" font-size="7.2" text-anchor="end" fill="#111" style="stroke-width:0.2px" textLength="42.0" lengthAdjust="spacingAndGlyphs">Solvent control</text>
<line x1="33.50" y1="224.15" x2="166.80" y2="224.15" stroke="#5e5e5e" stroke-width="1" stroke-dasharray="1,1.02"/>
<text x="164.30" y="221.55" font-size="5.9" text-anchor="end" fill="#111" style="stroke-width:0.1px" textLength="20.3" lengthAdjust="spacingAndGlyphs">=0.5580</text>
<text transform="translate(140.10,221.55) skewX(-14)" font-size="5.9" fill="#111" style="stroke-width:0.1px" textLength="3.6" lengthAdjust="spacingAndGlyphs">P</text>
<circle cx="46.50" cy="171.25" r="1.55" fill="#15337a"/>
<circle cx="46.50" cy="180.35" r="1.55" fill="#ac0b2b"/>
<text x="51.00" y="173.25" font-size="6.5" text-anchor="start" font-weight="normal" font-style="normal" fill="#111" textLength="9.9" lengthAdjust="spacingAndGlyphs" style="stroke-width:0.08px">Low</text>
<text x="51.00" y="182.25" font-size="6.5" text-anchor="start" font-weight="normal" font-style="normal" fill="#111" textLength="10.7" lengthAdjust="spacingAndGlyphs" style="stroke-width:0.08px">High</text>
<path d="M52.30,226.40 L53.14,226.34 L53.99,226.27 L54.83,226.19 L55.67,226.11 L56.51,226.02 L57.36,225.93 L58.20,225.83 L59.04,225.72 L59.88,225.60 L60.73,225.47 L61.57,225.33 L62.41,225.18 L63.25,225.01 L64.10,224.84 L64.94,224.65 L65.78,224.44 L66.62,224.22 L67.47,223.98 L68.31,223.73 L69.15,223.45 L70.00,223.16 L70.84,222.84 L71.68,222.50 L72.52,222.14 L73.37,221.75 L74.21,221.33 L75.05,220.89 L75.89,220.42 L76.74,219.92 L77.58,219.39 L78.42,218.83 L79.26,218.24 L80.11,217.61 L80.95,216.95 L81.79,216.26 L82.64,215.54 L83.48,214.78 L84.32,214.00 L85.16,213.18 L86.01,212.33 L86.85,211.45 L87.69,210.55 L88.53,209.62 L89.38,208.68 L90.22,207.71 L91.06,206.72 L91.90,205.72 L92.75,204.72 L93.59,203.70 L94.43,202.68 L95.27,201.67 L96.12,200.65 L96.96,199.65 L97.80,198.66 L98.65,197.68 L99.49,196.71 L100.33,195.77 L101.17,194.85 L102.02,193.95 L102.86,193.09 L103.70,192.25 L104.54,191.44 L105.39,190.66 L106.23,189.91 L107.07,189.20 L107.91,188.52 L108.76,187.87 L109.60,187.26 L110.44,186.67 L111.28,186.12 L112.13,185.60 L112.97,185.11 L113.81,184.65 L114.66,184.22 L115.50,183.81 L116.34,183.43 L117.18,183.07 L118.03,182.74 L118.87,182.43 L119.71,182.14 L120.55,181.87 L121.40,181.62 L122.24,181.39 L123.08,181.17 L123.92,180.97 L124.77,180.79 L125.61,180.61 L126.45,180.45 L127.30,180.31 L128.14,180.17 L128.98,180.04 L129.82,179.93 L130.67,179.82 L131.51,179.72 L132.35,179.63 L133.19,179.54 L134.04,179.46 L134.88,179.39 L135.72,179.32 L136.56,179.26 L137.41,179.21 L138.25,179.15 L139.09,179.10 L139.93,179.06 L140.78,179.02 L141.62,178.98 L142.46,178.95 L143.31,178.91 L144.15,178.89 L144.99,178.86 L145.83,178.83 L146.68,178.81 L147.52,178.79 L148.36,178.77 L149.20,178.75 L150.05,178.74 L150.89,178.72 L151.73,178.71 L152.57,178.69" fill="none" stroke="#b41a3a" stroke-width="1.15"/>
<line x1="41.20" y1="226.40" x2="46.10" y2="226.40" stroke="#b41a3a" stroke-width="1.15"/>
<circle cx="40.00" cy="226.40" r="1.6" fill="#ac0b2b"/>
<line x1="60.14" y1="225.30" x2="60.14" y2="230.70" stroke="#ac0b2b" stroke-width="0.8" opacity="0.85"/>
<line x1="58.84" y1="225.30" x2="61.44" y2="225.30" stroke="#ac0b2b" stroke-width="0.8" opacity="0.85"/>
<line x1="58.84" y1="230.70" x2="61.44" y2="230.70" stroke="#ac0b2b" stroke-width="0.8" opacity="0.85"/>
<circle cx="60.14" cy="228.00" r="1.6" fill="#ac0b2b"/>
<line x1="78.62" y1="215.00" x2="78.62" y2="221.20" stroke="#ac0b2b" stroke-width="0.8" opacity="0.85"/>
<line x1="77.32" y1="215.00" x2="79.92" y2="215.00" stroke="#ac0b2b" stroke-width="0.8" opacity="0.85"/>
<line x1="77.32" y1="221.20" x2="79.92" y2="221.20" stroke="#ac0b2b" stroke-width="0.8" opacity="0.85"/>
<circle cx="78.62" cy="218.10" r="1.6" fill="#ac0b2b"/>
<line x1="97.11" y1="196.20" x2="97.11" y2="202.40" stroke="#ac0b2b" stroke-width="0.8" opacity="0.85"/>
<line x1="95.81" y1="196.20" x2="98.41" y2="196.20" stroke="#ac0b2b" stroke-width="0.8" opacity="0.85"/>
<line x1="95.81" y1="202.40" x2="98.41" y2="202.40" stroke="#ac0b2b" stroke-width="0.8" opacity="0.85"/>
<circle cx="97.11" cy="199.30" r="1.6" fill="#ac0b2b"/>
<line x1="115.60" y1="180.10" x2="115.60" y2="188.50" stroke="#ac0b2b" stroke-width="0.8" opacity="0.85"/>
<line x1="114.30" y1="180.10" x2="116.90" y2="180.10" stroke="#ac0b2b" stroke-width="0.8" opacity="0.85"/>
<line x1="114.30" y1="188.50" x2="116.90" y2="188.50" stroke="#ac0b2b" stroke-width="0.8" opacity="0.85"/>
<circle cx="115.60" cy="184.30" r="1.6" fill="#ac0b2b"/>
<line x1="134.09" y1="175.30" x2="134.09" y2="184.10" stroke="#ac0b2b" stroke-width="0.8" opacity="0.85"/>
<line x1="132.79" y1="175.30" x2="135.39" y2="175.30" stroke="#ac0b2b" stroke-width="0.8" opacity="0.85"/>
<line x1="132.79" y1="184.10" x2="135.39" y2="184.10" stroke="#ac0b2b" stroke-width="0.8" opacity="0.85"/>
<circle cx="134.09" cy="179.70" r="1.6" fill="#ac0b2b"/>
<line x1="152.57" y1="175.00" x2="152.57" y2="181.20" stroke="#ac0b2b" stroke-width="0.8" opacity="0.85"/>
<line x1="151.27" y1="175.00" x2="153.87" y2="175.00" stroke="#ac0b2b" stroke-width="0.8" opacity="0.85"/>
<line x1="151.27" y1="181.20" x2="153.87" y2="181.20" stroke="#ac0b2b" stroke-width="0.8" opacity="0.85"/>
<circle cx="152.57" cy="178.10" r="1.6" fill="#ac0b2b"/>
<path d="M52.30,223.45 L53.14,223.33 L53.99,223.20 L54.83,223.06 L55.67,222.91 L56.51,222.75 L57.36,222.58 L58.20,222.40 L59.04,222.20 L59.88,221.99 L60.73,221.77 L61.57,221.53 L62.41,221.27 L63.25,221.00 L64.10,220.71 L64.94,220.40 L65.78,220.07 L66.62,219.72 L67.47,219.35 L68.31,218.96 L69.15,218.54 L70.00,218.10 L70.84,217.64 L71.68,217.15 L72.52,216.63 L73.37,216.09 L74.21,215.53 L75.05,214.94 L75.89,214.32 L76.74,213.67 L77.58,213.00 L78.42,212.31 L79.26,211.59 L80.11,210.84 L80.95,210.07 L81.79,209.29 L82.64,208.48 L83.48,207.65 L84.32,206.80 L85.16,205.95 L86.01,205.08 L86.85,204.19 L87.69,203.31 L88.53,202.41 L89.38,201.52 L90.22,200.62 L91.06,199.73 L91.90,198.84 L92.75,197.96 L93.59,197.09 L94.43,196.24 L95.27,195.39 L96.12,194.57 L96.96,193.76 L97.80,192.98 L98.65,192.21 L99.49,191.47 L100.33,190.75 L101.17,190.06 L102.02,189.39 L102.86,188.75 L103.70,188.14 L104.54,187.55 L105.39,186.98 L106.23,186.45 L107.07,185.94 L107.91,185.45 L108.76,184.99 L109.60,184.56 L110.44,184.14 L111.28,183.75 L112.13,183.39 L112.97,183.04 L113.81,182.71 L114.66,182.41 L115.50,182.12 L116.34,181.85 L117.18,181.59 L118.03,181.35 L118.87,181.13 L119.71,180.92 L120.55,180.73 L121.40,180.55 L122.24,180.38 L123.08,180.22 L123.92,180.07 L124.77,179.93 L125.61,179.80 L126.45,179.68 L127.30,179.57 L128.14,179.47 L128.98,179.37 L129.82,179.28 L130.67,179.20 L131.51,179.12 L132.35,179.05 L133.19,178.98 L134.04,178.92 L134.88,178.86 L135.72,178.81 L136.56,178.76 L137.41,178.71 L138.25,178.67 L139.09,178.63 L139.93,178.59 L140.78,178.56 L141.62,178.53 L142.46,178.50 L143.31,178.47 L144.15,178.44 L144.99,178.42 L145.83,178.40 L146.68,178.38 L147.52,178.36 L148.36,178.34 L149.20,178.33 L150.05,178.31 L150.89,178.30 L151.73,178.28 L152.57,178.27" fill="none" stroke="#30518f" stroke-width="1.15"/>
<line x1="41.20" y1="224.40" x2="46.10" y2="224.40" stroke="#30518f" stroke-width="1.15"/>
<circle cx="40.00" cy="224.20" r="1.6" fill="#15337a"/>
<line x1="60.14" y1="221.10" x2="60.14" y2="225.90" stroke="#15337a" stroke-width="0.8" opacity="0.85"/>
<line x1="58.84" y1="221.10" x2="61.44" y2="221.10" stroke="#15337a" stroke-width="0.8" opacity="0.85"/>
<line x1="58.84" y1="225.90" x2="61.44" y2="225.90" stroke="#15337a" stroke-width="0.8" opacity="0.85"/>
<circle cx="60.14" cy="223.50" r="1.6" fill="#15337a"/>
<line x1="78.62" y1="207.90" x2="78.62" y2="215.10" stroke="#15337a" stroke-width="0.8" opacity="0.85"/>
<line x1="77.32" y1="207.90" x2="79.92" y2="207.90" stroke="#15337a" stroke-width="0.8" opacity="0.85"/>
<line x1="77.32" y1="215.10" x2="79.92" y2="215.10" stroke="#15337a" stroke-width="0.8" opacity="0.85"/>
<circle cx="78.62" cy="211.50" r="1.6" fill="#15337a"/>
<line x1="97.11" y1="189.40" x2="97.11" y2="197.80" stroke="#15337a" stroke-width="0.8" opacity="0.85"/>
<line x1="95.81" y1="189.40" x2="98.41" y2="189.40" stroke="#15337a" stroke-width="0.8" opacity="0.85"/>
<line x1="95.81" y1="197.80" x2="98.41" y2="197.80" stroke="#15337a" stroke-width="0.8" opacity="0.85"/>
<circle cx="97.11" cy="193.60" r="1.6" fill="#15337a"/>
<line x1="115.60" y1="177.90" x2="115.60" y2="186.70" stroke="#15337a" stroke-width="0.8" opacity="0.85"/>
<line x1="114.30" y1="177.90" x2="116.90" y2="177.90" stroke="#15337a" stroke-width="0.8" opacity="0.85"/>
<line x1="114.30" y1="186.70" x2="116.90" y2="186.70" stroke="#15337a" stroke-width="0.8" opacity="0.85"/>
<circle cx="115.60" cy="182.30" r="1.6" fill="#15337a"/>
<line x1="134.09" y1="175.10" x2="134.09" y2="185.90" stroke="#15337a" stroke-width="0.8" opacity="0.85"/>
<line x1="132.79" y1="175.10" x2="135.39" y2="175.10" stroke="#15337a" stroke-width="0.8" opacity="0.85"/>
<line x1="132.79" y1="185.90" x2="135.39" y2="185.90" stroke="#15337a" stroke-width="0.8" opacity="0.85"/>
<circle cx="134.09" cy="180.50" r="1.6" fill="#15337a"/>
<line x1="152.57" y1="172.60" x2="152.57" y2="180.60" stroke="#15337a" stroke-width="0.8" opacity="0.85"/>
<line x1="151.27" y1="172.60" x2="153.87" y2="172.60" stroke="#15337a" stroke-width="0.8" opacity="0.85"/>
<line x1="151.27" y1="180.60" x2="153.87" y2="180.60" stroke="#15337a" stroke-width="0.8" opacity="0.85"/>
<circle cx="152.57" cy="176.60" r="1.6" fill="#15337a"/>
<text x="272.40" y="157.45" font-size="6.8" text-anchor="middle" font-weight="normal" font-style="normal" fill="#111" textLength="34.8" lengthAdjust="spacingAndGlyphs" >Naive T-cells</text>
<line x1="206.10" y1="161.55" x2="206.10" y2="236.25" stroke="#0a0a0a" stroke-width="1.3"/>
<line x1="202.90" y1="172.65" x2="206.10" y2="172.65" stroke="#0a0a0a" stroke-width="1"/>
<text x="200.20" y="175.00" font-size="6.8" text-anchor="end" font-weight="normal" font-style="normal" fill="#111" style="stroke-width:0.2px">50</text>
<line x1="202.90" y1="198.85" x2="206.10" y2="198.85" stroke="#0a0a0a" stroke-width="1"/>
<text x="200.20" y="201.20" font-size="6.8" text-anchor="end" font-weight="normal" font-style="normal" fill="#111" style="stroke-width:0.2px">25</text>
<line x1="202.90" y1="225.05" x2="206.10" y2="225.05" stroke="#0a0a0a" stroke-width="1"/>
<text x="200.20" y="227.40" font-size="6.8" text-anchor="end" font-weight="normal" font-style="normal" fill="#111" style="stroke-width:0.2px">0</text>
<text transform="translate(186.40,198.55) rotate(-90)" font-size="7.2" font-weight="bold" text-anchor="middle" fill="#111" textLength="47.3" lengthAdjust="spacingAndGlyphs">CD25<tspan dy="-3.0" font-size="4.4">+</tspan><tspan dy="3.0"> T-cells (%)</tspan></text>
<line x1="205.45" y1="235.65" x2="219.00" y2="235.65" stroke="#0a0a0a" stroke-width="1.3"/>
<line x1="224.60" y1="235.65" x2="338.70" y2="235.65" stroke="#0a0a0a" stroke-width="1.3"/>
<line x1="219.00" y1="232.55" x2="219.00" y2="238.25" stroke="#0a0a0a" stroke-width="1"/>
<line x1="224.60" y1="232.55" x2="224.60" y2="238.25" stroke="#0a0a0a" stroke-width="1"/>
<line x1="212.60" y1="235.65" x2="212.60" y2="238.75" stroke="#0a0a0a" stroke-width="1"/>
<line x1="229.90" y1="235.65" x2="229.90" y2="238.75" stroke="#0a0a0a" stroke-width="1"/>
<text x="229.90" y="247.95" font-size="6.6" text-anchor="middle" font-weight="normal" font-style="normal" fill="#111" >0.001</text>
<line x1="249.21" y1="235.65" x2="249.21" y2="237.25" stroke="#0a0a0a" stroke-width="0.8"/>
<line x1="256.35" y1="235.65" x2="256.35" y2="238.75" stroke="#0a0a0a" stroke-width="1"/>
<text x="256.35" y="247.95" font-size="6.6" text-anchor="middle" font-weight="normal" font-style="normal" fill="#111" >0.01</text>
<line x1="275.66" y1="235.65" x2="275.66" y2="237.25" stroke="#0a0a0a" stroke-width="0.8"/>
<line x1="282.80" y1="235.65" x2="282.80" y2="238.75" stroke="#0a0a0a" stroke-width="1"/>
<text x="282.80" y="247.95" font-size="6.6" text-anchor="middle" font-weight="normal" font-style="normal" fill="#111" >0.1</text>
<line x1="302.11" y1="235.65" x2="302.11" y2="237.25" stroke="#0a0a0a" stroke-width="0.8"/>
<line x1="309.25" y1="235.65" x2="309.25" y2="238.75" stroke="#0a0a0a" stroke-width="1"/>
<text x="309.25" y="247.95" font-size="6.6" text-anchor="middle" font-weight="normal" font-style="normal" fill="#111" >1</text>
<line x1="328.56" y1="235.65" x2="328.56" y2="237.25" stroke="#0a0a0a" stroke-width="0.8"/>
<line x1="335.70" y1="235.65" x2="335.70" y2="238.75" stroke="#0a0a0a" stroke-width="1"/>
<text x="335.70" y="247.95" font-size="6.6" text-anchor="middle" font-weight="normal" font-style="normal" fill="#111" >10</text>
<text x="272.20" y="260.25" font-size="9.0" text-anchor="middle" font-weight="normal" font-style="normal" fill="#111" textLength="58.7" lengthAdjust="spacingAndGlyphs" style="stroke-width:0.22px">Talquetamab (µg/mL)</text>
<text transform="translate(214.30,241.95) rotate(-90)" font-size="7.2" text-anchor="end" fill="#111" style="stroke-width:0.2px" textLength="42.0" lengthAdjust="spacingAndGlyphs">Solvent control</text>
<line x1="206.10" y1="225.05" x2="339.40" y2="225.05" stroke="#5e5e5e" stroke-width="1" stroke-dasharray="1,1.02"/>
<text x="336.90" y="221.55" font-size="5.9" text-anchor="end" fill="#111" style="stroke-width:0.1px" textLength="20.3" lengthAdjust="spacingAndGlyphs">=0.7609</text>
<text transform="translate(312.70,221.55) skewX(-14)" font-size="5.9" fill="#111" style="stroke-width:0.1px" textLength="3.6" lengthAdjust="spacingAndGlyphs">P</text>
<path d="M224.90,212.72 L225.74,212.66 L226.59,212.60 L227.43,212.54 L228.27,212.47 L229.11,212.40 L229.96,212.32 L230.80,212.23 L231.64,212.14 L232.48,212.05 L233.33,211.94 L234.17,211.83 L235.01,211.71 L235.85,211.59 L236.70,211.45 L237.54,211.31 L238.38,211.16 L239.22,210.99 L240.07,210.82 L240.91,210.63 L241.75,210.44 L242.60,210.23 L243.44,210.01 L244.28,209.77 L245.12,209.52 L245.97,209.26 L246.81,208.98 L247.65,208.68 L248.49,208.37 L249.34,208.05 L250.18,207.70 L251.02,207.34 L251.86,206.97 L252.71,206.57 L253.55,206.16 L254.39,205.72 L255.24,205.27 L256.08,204.81 L256.92,204.32 L257.76,203.82 L258.61,203.30 L259.45,202.77 L260.29,202.22 L261.13,201.65 L261.98,201.08 L262.82,200.49 L263.66,199.89 L264.50,199.28 L265.35,198.66 L266.19,198.03 L267.03,197.40 L267.87,196.77 L268.72,196.13 L269.56,195.50 L270.40,194.86 L271.25,194.23 L272.09,193.60 L272.93,192.99 L273.77,192.37 L274.62,191.77 L275.46,191.18 L276.30,190.60 L277.14,190.04 L277.99,189.48 L278.83,188.95 L279.67,188.43 L280.51,187.92 L281.36,187.44 L282.20,186.97 L283.04,186.51 L283.88,186.08 L284.73,185.66 L285.57,185.27 L286.41,184.88 L287.26,184.52 L288.10,184.18 L288.94,183.85 L289.78,183.53 L290.63,183.24 L291.47,182.96 L292.31,182.69 L293.15,182.44 L294.00,182.20 L294.84,181.98 L295.68,181.77 L296.52,181.57 L297.37,181.38 L298.21,181.21 L299.05,181.04 L299.90,180.89 L300.74,180.75 L301.58,180.61 L302.42,180.48 L303.27,180.36 L304.11,180.25 L304.95,180.15 L305.79,180.05 L306.64,179.96 L307.48,179.87 L308.32,179.79 L309.16,179.72 L310.01,179.65 L310.85,179.58 L311.69,179.52 L312.53,179.47 L313.38,179.41 L314.22,179.37 L315.06,179.32 L315.91,179.28 L316.75,179.24 L317.59,179.20 L318.43,179.17 L319.28,179.13 L320.12,179.10 L320.96,179.08 L321.80,179.05 L322.65,179.03 L323.49,179.00 L324.33,178.98 L325.17,178.96" fill="none" stroke="#b41a3a" stroke-width="1.15"/>
<line x1="213.80" y1="213.30" x2="218.70" y2="213.30" stroke="#b41a3a" stroke-width="1.15"/>
<circle cx="212.60" cy="213.60" r="1.6" fill="#ac0b2b"/>
<line x1="232.74" y1="210.80" x2="232.74" y2="212.80" stroke="#ac0b2b" stroke-width="0.8" opacity="0.85"/>
<line x1="231.44" y1="210.80" x2="234.04" y2="210.80" stroke="#ac0b2b" stroke-width="0.8" opacity="0.85"/>
<line x1="231.44" y1="212.80" x2="234.04" y2="212.80" stroke="#ac0b2b" stroke-width="0.8" opacity="0.85"/>
<circle cx="232.74" cy="211.80" r="1.6" fill="#ac0b2b"/>
<line x1="251.22" y1="206.90" x2="251.22" y2="208.90" stroke="#ac0b2b" stroke-width="0.8" opacity="0.85"/>
<line x1="249.92" y1="206.90" x2="252.52" y2="206.90" stroke="#ac0b2b" stroke-width="0.8" opacity="0.85"/>
<line x1="249.92" y1="208.90" x2="252.52" y2="208.90" stroke="#ac0b2b" stroke-width="0.8" opacity="0.85"/>
<circle cx="251.22" cy="207.90" r="1.6" fill="#ac0b2b"/>
<line x1="269.71" y1="191.00" x2="269.71" y2="198.40" stroke="#ac0b2b" stroke-width="0.8" opacity="0.85"/>
<line x1="268.41" y1="191.00" x2="271.01" y2="191.00" stroke="#ac0b2b" stroke-width="0.8" opacity="0.85"/>
<line x1="268.41" y1="198.40" x2="271.01" y2="198.40" stroke="#ac0b2b" stroke-width="0.8" opacity="0.85"/>
<circle cx="269.71" cy="194.70" r="1.6" fill="#ac0b2b"/>
<line x1="288.20" y1="180.20" x2="288.20" y2="189.40" stroke="#ac0b2b" stroke-width="0.8" opacity="0.85"/>
<line x1="286.90" y1="180.20" x2="289.50" y2="180.20" stroke="#ac0b2b" stroke-width="0.8" opacity="0.85"/>
<line x1="286.90" y1="189.40" x2="289.50" y2="189.40" stroke="#ac0b2b" stroke-width="0.8" opacity="0.85"/>
<circle cx="288.20" cy="184.80" r="1.6" fill="#ac0b2b"/>
<line x1="306.69" y1="175.40" x2="306.69" y2="184.40" stroke="#ac0b2b" stroke-width="0.8" opacity="0.85"/>
<line x1="305.39" y1="175.40" x2="307.99" y2="175.40" stroke="#ac0b2b" stroke-width="0.8" opacity="0.85"/>
<line x1="305.39" y1="184.40" x2="307.99" y2="184.40" stroke="#ac0b2b" stroke-width="0.8" opacity="0.85"/>
<circle cx="306.69" cy="179.90" r="1.6" fill="#ac0b2b"/>
<line x1="325.17" y1="173.90" x2="325.17" y2="183.50" stroke="#ac0b2b" stroke-width="0.8" opacity="0.85"/>
<line x1="323.87" y1="173.90" x2="326.47" y2="173.90" stroke="#ac0b2b" stroke-width="0.8" opacity="0.85"/>
<line x1="323.87" y1="183.50" x2="326.47" y2="183.50" stroke="#ac0b2b" stroke-width="0.8" opacity="0.85"/>
<circle cx="325.17" cy="178.70" r="1.6" fill="#ac0b2b"/>
<path d="M224.90,209.83 L225.74,209.77 L226.59,209.70 L227.43,209.63 L228.27,209.55 L229.11,209.47 L229.96,209.38 L230.80,209.29 L231.64,209.19 L232.48,209.08 L233.33,208.98 L234.17,208.86 L235.01,208.74 L235.85,208.61 L236.70,208.47 L237.54,208.33 L238.38,208.17 L239.22,208.01 L240.07,207.84 L240.91,207.67 L241.75,207.48 L242.60,207.28 L243.44,207.08 L244.28,206.86 L245.12,206.63 L245.97,206.39 L246.81,206.15 L247.65,205.89 L248.49,205.61 L249.34,205.33 L250.18,205.04 L251.02,204.73 L251.86,204.41 L252.71,204.08 L253.55,203.74 L254.39,203.39 L255.24,203.02 L256.08,202.65 L256.92,202.26 L257.76,201.86 L258.61,201.45 L259.45,201.03 L260.29,200.60 L261.13,200.16 L261.98,199.72 L262.82,199.26 L263.66,198.80 L264.50,198.33 L265.35,197.86 L266.19,197.38 L267.03,196.90 L267.87,196.42 L268.72,195.94 L269.56,195.45 L270.40,194.97 L271.25,194.49 L272.09,194.01 L272.93,193.53 L273.77,193.06 L274.62,192.59 L275.46,192.13 L276.30,191.67 L277.14,191.22 L277.99,190.78 L278.83,190.35 L279.67,189.93 L280.51,189.52 L281.36,189.12 L282.20,188.73 L283.04,188.36 L283.88,187.99 L284.73,187.63 L285.57,187.29 L286.41,186.96 L287.26,186.64 L288.10,186.33 L288.94,186.04 L289.78,185.75 L290.63,185.48 L291.47,185.22 L292.31,184.97 L293.15,184.73 L294.00,184.50 L294.84,184.28 L295.68,184.07 L296.52,183.88 L297.37,183.69 L298.21,183.51 L299.05,183.34 L299.90,183.18 L300.74,183.02 L301.58,182.88 L302.42,182.74 L303.27,182.61 L304.11,182.49 L304.95,182.37 L305.79,182.26 L306.64,182.16 L307.48,182.06 L308.32,181.96 L309.16,181.88 L310.01,181.79 L310.85,181.71 L311.69,181.64 L312.53,181.57 L313.38,181.50 L314.22,181.44 L315.06,181.38 L315.91,181.33 L316.75,181.28 L317.59,181.23 L318.43,181.18 L319.28,181.14 L320.12,181.10 L320.96,181.06 L321.80,181.03 L322.65,180.99 L323.49,180.96 L324.33,180.93 L325.17,180.90" fill="none" stroke="#30518f" stroke-width="1.15"/>
<line x1="213.80" y1="210.60" x2="218.70" y2="210.60" stroke="#30518f" stroke-width="1.15"/>
<circle cx="212.60" cy="211.30" r="1.6" fill="#15337a"/>
<line x1="232.74" y1="208.10" x2="232.74" y2="210.10" stroke="#15337a" stroke-width="0.8" opacity="0.85"/>
<line x1="231.44" y1="208.10" x2="234.04" y2="208.10" stroke="#15337a" stroke-width="0.8" opacity="0.85"/>
<line x1="231.44" y1="210.10" x2="234.04" y2="210.10" stroke="#15337a" stroke-width="0.8" opacity="0.85"/>
<circle cx="232.74" cy="209.10" r="1.6" fill="#15337a"/>
<line x1="251.22" y1="203.80" x2="251.22" y2="205.80" stroke="#15337a" stroke-width="0.8" opacity="0.85"/>
<line x1="249.92" y1="203.80" x2="252.52" y2="203.80" stroke="#15337a" stroke-width="0.8" opacity="0.85"/>
<line x1="249.92" y1="205.80" x2="252.52" y2="205.80" stroke="#15337a" stroke-width="0.8" opacity="0.85"/>
<circle cx="251.22" cy="204.80" r="1.6" fill="#15337a"/>
<line x1="269.71" y1="191.60" x2="269.71" y2="198.60" stroke="#15337a" stroke-width="0.8" opacity="0.85"/>
<line x1="268.41" y1="191.60" x2="271.01" y2="191.60" stroke="#15337a" stroke-width="0.8" opacity="0.85"/>
<line x1="268.41" y1="198.60" x2="271.01" y2="198.60" stroke="#15337a" stroke-width="0.8" opacity="0.85"/>
<circle cx="269.71" cy="195.10" r="1.6" fill="#15337a"/>
<line x1="288.20" y1="182.20" x2="288.20" y2="191.00" stroke="#15337a" stroke-width="0.8" opacity="0.85"/>
<line x1="286.90" y1="182.20" x2="289.50" y2="182.20" stroke="#15337a" stroke-width="0.8" opacity="0.85"/>
<line x1="286.90" y1="191.00" x2="289.50" y2="191.00" stroke="#15337a" stroke-width="0.8" opacity="0.85"/>
<circle cx="288.20" cy="186.60" r="1.6" fill="#15337a"/>
<line x1="306.69" y1="178.10" x2="306.69" y2="185.90" stroke="#15337a" stroke-width="0.8" opacity="0.85"/>
<line x1="305.39" y1="178.10" x2="307.99" y2="178.10" stroke="#15337a" stroke-width="0.8" opacity="0.85"/>
<line x1="305.39" y1="185.90" x2="307.99" y2="185.90" stroke="#15337a" stroke-width="0.8" opacity="0.85"/>
<circle cx="306.69" cy="182.00" r="1.6" fill="#15337a"/>
<line x1="325.17" y1="177.30" x2="325.17" y2="184.50" stroke="#15337a" stroke-width="0.8" opacity="0.85"/>
<line x1="323.87" y1="177.30" x2="326.47" y2="177.30" stroke="#15337a" stroke-width="0.8" opacity="0.85"/>
<line x1="323.87" y1="184.50" x2="326.47" y2="184.50" stroke="#15337a" stroke-width="0.8" opacity="0.85"/>
<circle cx="325.17" cy="180.90" r="1.6" fill="#15337a"/>
<text x="445.30" y="157.45" font-size="6.8" text-anchor="middle" font-weight="normal" font-style="normal" fill="#111" textLength="34.8" lengthAdjust="spacingAndGlyphs" >Naive T-cells</text>
<line x1="379.00" y1="161.55" x2="379.00" y2="236.25" stroke="#0a0a0a" stroke-width="1.3"/>
<line x1="375.80" y1="174.75" x2="379.00" y2="174.75" stroke="#0a0a0a" stroke-width="1"/>
<text x="373.10" y="177.10" font-size="6.8" text-anchor="end" font-weight="normal" font-style="normal" fill="#111" style="stroke-width:0.2px">20</text>
<line x1="375.80" y1="199.85" x2="379.00" y2="199.85" stroke="#0a0a0a" stroke-width="1"/>
<text x="373.10" y="202.20" font-size="6.8" text-anchor="end" font-weight="normal" font-style="normal" fill="#111" style="stroke-width:0.2px">10</text>
<line x1="375.80" y1="225.05" x2="379.00" y2="225.05" stroke="#0a0a0a" stroke-width="1"/>
<text x="373.10" y="227.40" font-size="6.8" text-anchor="end" font-weight="normal" font-style="normal" fill="#111" style="stroke-width:0.2px">0</text>
<text transform="translate(357.80,198.55) rotate(-90)" font-size="7.2" font-weight="bold" text-anchor="middle" fill="#111" textLength="55.6" lengthAdjust="spacingAndGlyphs">CD107a<tspan dy="-3.0" font-size="4.4">+</tspan><tspan dy="3.0"> T-cells (%)</tspan></text>
<line x1="378.35" y1="235.65" x2="391.90" y2="235.65" stroke="#0a0a0a" stroke-width="1.3"/>
<line x1="397.50" y1="235.65" x2="511.60" y2="235.65" stroke="#0a0a0a" stroke-width="1.3"/>
<line x1="391.90" y1="232.55" x2="391.90" y2="238.25" stroke="#0a0a0a" stroke-width="1"/>
<line x1="397.50" y1="232.55" x2="397.50" y2="238.25" stroke="#0a0a0a" stroke-width="1"/>
<line x1="385.50" y1="235.65" x2="385.50" y2="238.75" stroke="#0a0a0a" stroke-width="1"/>
<line x1="402.80" y1="235.65" x2="402.80" y2="238.75" stroke="#0a0a0a" stroke-width="1"/>
<text x="402.80" y="247.95" font-size="6.6" text-anchor="middle" font-weight="normal" font-style="normal" fill="#111" >0.001</text>
<line x1="422.11" y1="235.65" x2="422.11" y2="237.25" stroke="#0a0a0a" stroke-width="0.8"/>
<line x1="429.25" y1="235.65" x2="429.25" y2="238.75" stroke="#0a0a0a" stroke-width="1"/>
<text x="429.25" y="247.95" font-size="6.6" text-anchor="middle" font-weight="normal" font-style="normal" fill="#111" >0.01</text>
<line x1="448.56" y1="235.65" x2="448.56" y2="237.25" stroke="#0a0a0a" stroke-width="0.8"/>
<line x1="455.70" y1="235.65" x2="455.70" y2="238.75" stroke="#0a0a0a" stroke-width="1"/>
<text x="455.70" y="247.95" font-size="6.6" text-anchor="middle" font-weight="normal" font-style="normal" fill="#111" >0.1</text>
<line x1="475.01" y1="235.65" x2="475.01" y2="237.25" stroke="#0a0a0a" stroke-width="0.8"/>
<line x1="482.15" y1="235.65" x2="482.15" y2="238.75" stroke="#0a0a0a" stroke-width="1"/>
<text x="482.15" y="247.95" font-size="6.6" text-anchor="middle" font-weight="normal" font-style="normal" fill="#111" >1</text>
<line x1="501.46" y1="235.65" x2="501.46" y2="237.25" stroke="#0a0a0a" stroke-width="0.8"/>
<line x1="508.60" y1="235.65" x2="508.60" y2="238.75" stroke="#0a0a0a" stroke-width="1"/>
<text x="508.60" y="247.95" font-size="6.6" text-anchor="middle" font-weight="normal" font-style="normal" fill="#111" >10</text>
<text x="445.10" y="260.25" font-size="9.0" text-anchor="middle" font-weight="normal" font-style="normal" fill="#111" textLength="58.7" lengthAdjust="spacingAndGlyphs" style="stroke-width:0.22px">Talquetamab (µg/mL)</text>
<text transform="translate(387.20,241.95) rotate(-90)" font-size="7.2" text-anchor="end" fill="#111" style="stroke-width:0.2px" textLength="42.0" lengthAdjust="spacingAndGlyphs">Solvent control</text>
<line x1="379.00" y1="225.05" x2="512.30" y2="225.05" stroke="#5e5e5e" stroke-width="1" stroke-dasharray="1,1.02"/>
<text x="509.80" y="221.55" font-size="5.9" text-anchor="end" fill="#111" style="stroke-width:0.1px" textLength="20.3" lengthAdjust="spacingAndGlyphs">=0.6941</text>
<text transform="translate(485.60,221.55) skewX(-14)" font-size="5.9" fill="#111" style="stroke-width:0.1px" textLength="3.6" lengthAdjust="spacingAndGlyphs">P</text>
<path d="M397.80,200.64 L398.64,200.62 L399.49,200.60 L400.33,200.59 L401.17,200.57 L402.01,200.54 L402.86,200.52 L403.70,200.49 L404.54,200.47 L405.38,200.43 L406.23,200.40 L407.07,200.36 L407.91,200.32 L408.75,200.27 L409.60,200.22 L410.44,200.17 L411.28,200.11 L412.12,200.04 L412.97,199.97 L413.81,199.89 L414.65,199.81 L415.50,199.71 L416.34,199.61 L417.18,199.50 L418.02,199.38 L418.87,199.25 L419.71,199.11 L420.55,198.96 L421.39,198.80 L422.24,198.62 L423.08,198.43 L423.92,198.22 L424.76,198.00 L425.61,197.77 L426.45,197.52 L427.29,197.25 L428.14,196.96 L428.98,196.66 L429.82,196.35 L430.66,196.01 L431.51,195.66 L432.35,195.29 L433.19,194.91 L434.03,194.51 L434.88,194.10 L435.72,193.68 L436.56,193.25 L437.40,192.80 L438.25,192.35 L439.09,191.90 L439.93,191.44 L440.77,190.98 L441.62,190.52 L442.46,190.07 L443.30,189.62 L444.15,189.17 L444.99,188.74 L445.83,188.31 L446.67,187.90 L447.52,187.50 L448.36,187.12 L449.20,186.75 L450.04,186.39 L450.89,186.06 L451.73,185.73 L452.57,185.43 L453.41,185.14 L454.26,184.87 L455.10,184.62 L455.94,184.38 L456.78,184.16 L457.63,183.95 L458.47,183.76 L459.31,183.58 L460.16,183.41 L461.00,183.26 L461.84,183.12 L462.68,182.98 L463.53,182.86 L464.37,182.75 L465.21,182.65 L466.05,182.55 L466.90,182.47 L467.74,182.39 L468.58,182.32 L469.42,182.25 L470.27,182.19 L471.11,182.13 L471.95,182.08 L472.80,182.04 L473.64,181.99 L474.48,181.95 L475.32,181.92 L476.17,181.89 L477.01,181.86 L477.85,181.83 L478.69,181.81 L479.54,181.78 L480.38,181.76 L481.22,181.74 L482.06,181.73 L482.91,181.71 L483.75,181.70 L484.59,181.69 L485.43,181.67 L486.28,181.66 L487.12,181.65 L487.96,181.65 L488.81,181.64 L489.65,181.63 L490.49,181.62 L491.33,181.62 L492.18,181.61 L493.02,181.61 L493.86,181.60 L494.70,181.60 L495.55,181.59 L496.39,181.59 L497.23,181.59 L498.07,181.59" fill="none" stroke="#b41a3a" stroke-width="1.15"/>
<line x1="386.70" y1="200.90" x2="391.60" y2="200.90" stroke="#b41a3a" stroke-width="1.15"/>
<circle cx="385.50" cy="201.80" r="1.6" fill="#ac0b2b"/>
<line x1="405.64" y1="197.50" x2="405.64" y2="202.10" stroke="#ac0b2b" stroke-width="0.8" opacity="0.85"/>
<line x1="404.34" y1="197.50" x2="406.94" y2="197.50" stroke="#ac0b2b" stroke-width="0.8" opacity="0.85"/>
<line x1="404.34" y1="202.10" x2="406.94" y2="202.10" stroke="#ac0b2b" stroke-width="0.8" opacity="0.85"/>
<circle cx="405.64" cy="199.80" r="1.6" fill="#ac0b2b"/>
<line x1="424.12" y1="196.30" x2="424.12" y2="200.70" stroke="#ac0b2b" stroke-width="0.8" opacity="0.85"/>
<line x1="422.82" y1="196.30" x2="425.42" y2="196.30" stroke="#ac0b2b" stroke-width="0.8" opacity="0.85"/>
<line x1="422.82" y1="200.70" x2="425.42" y2="200.70" stroke="#ac0b2b" stroke-width="0.8" opacity="0.85"/>
<circle cx="424.12" cy="198.50" r="1.6" fill="#ac0b2b"/>
<line x1="442.61" y1="185.80" x2="442.61" y2="193.80" stroke="#ac0b2b" stroke-width="0.8" opacity="0.85"/>
<line x1="441.31" y1="185.80" x2="443.91" y2="185.80" stroke="#ac0b2b" stroke-width="0.8" opacity="0.85"/>
<line x1="441.31" y1="193.80" x2="443.91" y2="193.80" stroke="#ac0b2b" stroke-width="0.8" opacity="0.85"/>
<circle cx="442.61" cy="189.80" r="1.6" fill="#ac0b2b"/>
<line x1="461.10" y1="178.30" x2="461.10" y2="188.70" stroke="#ac0b2b" stroke-width="0.8" opacity="0.85"/>
<line x1="459.80" y1="178.30" x2="462.40" y2="178.30" stroke="#ac0b2b" stroke-width="0.8" opacity="0.85"/>
<line x1="459.80" y1="188.70" x2="462.40" y2="188.70" stroke="#ac0b2b" stroke-width="0.8" opacity="0.85"/>
<circle cx="461.10" cy="183.50" r="1.6" fill="#ac0b2b"/>
<line x1="479.59" y1="175.80" x2="479.59" y2="187.40" stroke="#ac0b2b" stroke-width="0.8" opacity="0.85"/>
<line x1="478.29" y1="175.80" x2="480.89" y2="175.80" stroke="#ac0b2b" stroke-width="0.8" opacity="0.85"/>
<line x1="478.29" y1="187.40" x2="480.89" y2="187.40" stroke="#ac0b2b" stroke-width="0.8" opacity="0.85"/>
<circle cx="479.59" cy="181.60" r="1.6" fill="#ac0b2b"/>
<line x1="498.07" y1="175.80" x2="498.07" y2="187.40" stroke="#ac0b2b" stroke-width="0.8" opacity="0.85"/>
<line x1="496.77" y1="175.80" x2="499.37" y2="175.80" stroke="#ac0b2b" stroke-width="0.8" opacity="0.85"/>
<line x1="496.77" y1="187.40" x2="499.37" y2="187.40" stroke="#ac0b2b" stroke-width="0.8" opacity="0.85"/>
<circle cx="498.07" cy="181.60" r="1.6" fill="#ac0b2b"/>
<path d="M397.80,196.88 L398.64,196.82 L399.49,196.75 L400.33,196.69 L401.17,196.62 L402.01,196.55 L402.86,196.47 L403.70,196.40 L404.54,196.32 L405.38,196.24 L406.23,196.16 L407.07,196.07 L407.91,195.99 L408.75,195.90 L409.60,195.80 L410.44,195.71 L411.28,195.61 L412.12,195.51 L412.97,195.41 L413.81,195.30 L414.65,195.19 L415.50,195.08 L416.34,194.97 L417.18,194.85 L418.02,194.73 L418.87,194.61 L419.71,194.49 L420.55,194.36 L421.39,194.23 L422.24,194.09 L423.08,193.96 L423.92,193.82 L424.76,193.68 L425.61,193.53 L426.45,193.39 L427.29,193.24 L428.14,193.09 L428.98,192.93 L429.82,192.78 L430.66,192.62 L431.51,192.45 L432.35,192.29 L433.19,192.13 L434.03,191.96 L434.88,191.79 L435.72,191.62 L436.56,191.44 L437.40,191.27 L438.25,191.09 L439.09,190.92 L439.93,190.74 L440.77,190.56 L441.62,190.38 L442.46,190.19 L443.30,190.01 L444.15,189.83 L444.99,189.64 L445.83,189.46 L446.67,189.28 L447.52,189.09 L448.36,188.91 L449.20,188.72 L450.04,188.54 L450.89,188.36 L451.73,188.18 L452.57,187.99 L453.41,187.81 L454.26,187.64 L455.10,187.46 L455.94,187.28 L456.78,187.11 L457.63,186.93 L458.47,186.76 L459.31,186.59 L460.16,186.42 L461.00,186.25 L461.84,186.09 L462.68,185.93 L463.53,185.77 L464.37,185.61 L465.21,185.46 L466.05,185.30 L466.90,185.15 L467.74,185.01 L468.58,184.86 L469.42,184.72 L470.27,184.58 L471.11,184.44 L471.95,184.31 L472.80,184.18 L473.64,184.05 L474.48,183.92 L475.32,183.80 L476.17,183.68 L477.01,183.56 L477.85,183.45 L478.69,183.33 L479.54,183.23 L480.38,183.12 L481.22,183.02 L482.06,182.91 L482.91,182.82 L483.75,182.72 L484.59,182.63 L485.43,182.54 L486.28,182.45 L487.12,182.36 L487.96,182.28 L488.81,182.20 L489.65,182.12 L490.49,182.04 L491.33,181.97 L492.18,181.90 L493.02,181.83 L493.86,181.76 L494.70,181.70 L495.55,181.63 L496.39,181.57 L497.23,181.51 L498.07,181.46" fill="none" stroke="#30518f" stroke-width="1.15"/>
<line x1="386.70" y1="198.10" x2="391.60" y2="198.10" stroke="#30518f" stroke-width="1.15"/>
<line x1="385.50" y1="196.90" x2="385.50" y2="200.90" stroke="#15337a" stroke-width="0.8" opacity="0.85"/>
<line x1="384.20" y1="196.90" x2="386.80" y2="196.90" stroke="#15337a" stroke-width="0.8" opacity="0.85"/>
<line x1="384.20" y1="200.90" x2="386.80" y2="200.90" stroke="#15337a" stroke-width="0.8" opacity="0.85"/>
<circle cx="385.50" cy="198.90" r="1.6" fill="#15337a"/>
<line x1="405.64" y1="193.00" x2="405.64" y2="197.80" stroke="#15337a" stroke-width="0.8" opacity="0.85"/>
<line x1="404.34" y1="193.00" x2="406.94" y2="193.00" stroke="#15337a" stroke-width="0.8" opacity="0.85"/>
<line x1="404.34" y1="197.80" x2="406.94" y2="197.80" stroke="#15337a" stroke-width="0.8" opacity="0.85"/>
<circle cx="405.64" cy="195.40" r="1.6" fill="#15337a"/>
<line x1="424.12" y1="191.20" x2="424.12" y2="196.20" stroke="#15337a" stroke-width="0.8" opacity="0.85"/>
<line x1="422.82" y1="191.20" x2="425.42" y2="191.20" stroke="#15337a" stroke-width="0.8" opacity="0.85"/>
<line x1="422.82" y1="196.20" x2="425.42" y2="196.20" stroke="#15337a" stroke-width="0.8" opacity="0.85"/>
<circle cx="424.12" cy="193.70" r="1.6" fill="#15337a"/>
<line x1="442.61" y1="187.20" x2="442.61" y2="194.20" stroke="#15337a" stroke-width="0.8" opacity="0.85"/>
<line x1="441.31" y1="187.20" x2="443.91" y2="187.20" stroke="#15337a" stroke-width="0.8" opacity="0.85"/>
<line x1="441.31" y1="194.20" x2="443.91" y2="194.20" stroke="#15337a" stroke-width="0.8" opacity="0.85"/>
<circle cx="442.61" cy="190.70" r="1.6" fill="#15337a"/>
<line x1="461.10" y1="183.30" x2="461.10" y2="189.50" stroke="#15337a" stroke-width="0.8" opacity="0.85"/>
<line x1="459.80" y1="183.30" x2="462.40" y2="183.30" stroke="#15337a" stroke-width="0.8" opacity="0.85"/>
<line x1="459.80" y1="189.50" x2="462.40" y2="189.50" stroke="#15337a" stroke-width="0.8" opacity="0.85"/>
<circle cx="461.10" cy="186.40" r="1.6" fill="#15337a"/>
<line x1="479.59" y1="179.40" x2="479.59" y2="185.20" stroke="#15337a" stroke-width="0.8" opacity="0.85"/>
<line x1="478.29" y1="179.40" x2="480.89" y2="179.40" stroke="#15337a" stroke-width="0.8" opacity="0.85"/>
<line x1="478.29" y1="185.20" x2="480.89" y2="185.20" stroke="#15337a" stroke-width="0.8" opacity="0.85"/>
<circle cx="479.59" cy="182.30" r="1.6" fill="#15337a"/>
<line x1="498.07" y1="177.70" x2="498.07" y2="186.30" stroke="#15337a" stroke-width="0.8" opacity="0.85"/>
<line x1="496.77" y1="177.70" x2="499.37" y2="177.70" stroke="#15337a" stroke-width="0.8" opacity="0.85"/>
<line x1="496.77" y1="186.30" x2="499.37" y2="186.30" stroke="#15337a" stroke-width="0.8" opacity="0.85"/>
<circle cx="498.07" cy="182.00" r="1.6" fill="#15337a"/>
<rect x="0.5" y="0.5" width="519" height="290" fill="none" stroke="#000" stroke-width="1"/>
</svg></div></body></html>
